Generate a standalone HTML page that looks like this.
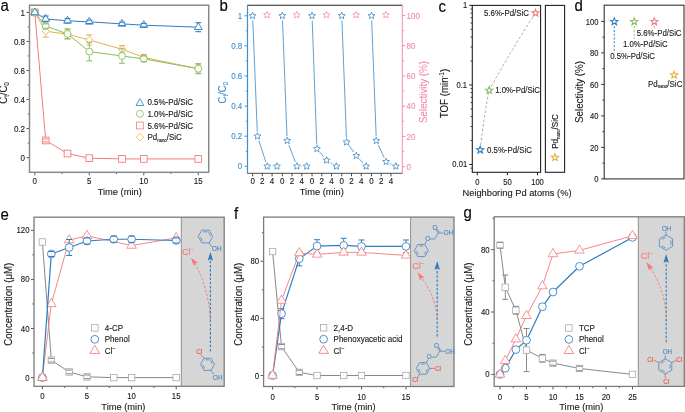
<!DOCTYPE html>
<html><head><meta charset="utf-8"><style>
html,body{margin:0;padding:0;background:#fff;}
svg{display:block;will-change:transform;}
text{font-family:"Liberation Sans", sans-serif;}
</style></head><body>
<svg width="685" height="412" viewBox="0 0 685 412">
<text transform="translate(0.5 11.38) scale(1 1.07)" font-size="15" fill="#000" stroke="#000" stroke-width="0.12" text-anchor="start" >a</text>
<line x1="26.5" y1="157.6" x2="29.5" y2="157.6" stroke="#555555" stroke-width="1" />
<text transform="translate(25 160.7) scale(1 1.07)" font-size="8" fill="#1a1a1a" stroke="#1a1a1a" stroke-width="0.12" text-anchor="end" >0</text>
<line x1="26.5" y1="128.56" x2="29.5" y2="128.56" stroke="#555555" stroke-width="1" />
<text transform="translate(25 131.66) scale(1 1.07)" font-size="8" fill="#1a1a1a" stroke="#1a1a1a" stroke-width="0.12" text-anchor="end" >0.2</text>
<line x1="26.5" y1="99.52" x2="29.5" y2="99.52" stroke="#555555" stroke-width="1" />
<text transform="translate(25 102.62) scale(1 1.07)" font-size="8" fill="#1a1a1a" stroke="#1a1a1a" stroke-width="0.12" text-anchor="end" >0.4</text>
<line x1="26.5" y1="70.48" x2="29.5" y2="70.48" stroke="#555555" stroke-width="1" />
<text transform="translate(25 73.58) scale(1 1.07)" font-size="8" fill="#1a1a1a" stroke="#1a1a1a" stroke-width="0.12" text-anchor="end" >0.6</text>
<line x1="26.5" y1="41.44" x2="29.5" y2="41.44" stroke="#555555" stroke-width="1" />
<text transform="translate(25 44.54) scale(1 1.07)" font-size="8" fill="#1a1a1a" stroke="#1a1a1a" stroke-width="0.12" text-anchor="end" >0.8</text>
<line x1="26.5" y1="12.4" x2="29.5" y2="12.4" stroke="#555555" stroke-width="1" />
<text transform="translate(25 15.5) scale(1 1.07)" font-size="8" fill="#1a1a1a" stroke="#1a1a1a" stroke-width="0.12" text-anchor="end" >1</text>
<line x1="27.8" y1="143.08" x2="29.5" y2="143.08" stroke="#555555" stroke-width="1" />
<line x1="27.8" y1="114.04" x2="29.5" y2="114.04" stroke="#555555" stroke-width="1" />
<line x1="27.8" y1="85" x2="29.5" y2="85" stroke="#555555" stroke-width="1" />
<line x1="27.8" y1="55.96" x2="29.5" y2="55.96" stroke="#555555" stroke-width="1" />
<line x1="27.8" y1="26.92" x2="29.5" y2="26.92" stroke="#555555" stroke-width="1" />
<line x1="34.8" y1="172.3" x2="34.8" y2="175.3" stroke="#555555" stroke-width="1" />
<text transform="translate(34.8 184) scale(1 1.07)" font-size="8" fill="#1a1a1a" stroke="#1a1a1a" stroke-width="0.12" text-anchor="middle" >0</text>
<line x1="89.3" y1="172.3" x2="89.3" y2="175.3" stroke="#555555" stroke-width="1" />
<text transform="translate(89.3 184) scale(1 1.07)" font-size="8" fill="#1a1a1a" stroke="#1a1a1a" stroke-width="0.12" text-anchor="middle" >5</text>
<line x1="143.8" y1="172.3" x2="143.8" y2="175.3" stroke="#555555" stroke-width="1" />
<text transform="translate(143.8 184) scale(1 1.07)" font-size="8" fill="#1a1a1a" stroke="#1a1a1a" stroke-width="0.12" text-anchor="middle" >10</text>
<line x1="198.3" y1="172.3" x2="198.3" y2="175.3" stroke="#555555" stroke-width="1" />
<text transform="translate(198.3 184) scale(1 1.07)" font-size="8" fill="#1a1a1a" stroke="#1a1a1a" stroke-width="0.12" text-anchor="middle" >15</text>
<line x1="62.05" y1="172.3" x2="62.05" y2="174" stroke="#555555" stroke-width="1" />
<line x1="116.55" y1="172.3" x2="116.55" y2="174" stroke="#555555" stroke-width="1" />
<line x1="171.05" y1="172.3" x2="171.05" y2="174" stroke="#555555" stroke-width="1" />
<text transform="translate(119.75 195.43) scale(1 1.07)" font-size="9.3" fill="#1a1a1a" stroke="#1a1a1a" stroke-width="0.12" text-anchor="middle" >Time (min)</text>
<text transform="translate(6.84 93) rotate(-90) scale(1 1.07)" font-size="9.6" fill="#1a1a1a" stroke="#1a1a1a" stroke-width="0.12" text-anchor="middle">C<tspan font-size="5.9" dy="2.0">t</tspan><tspan dy="-2.0">/C</tspan><tspan font-size="5.9" dy="2.0">0</tspan></text>
<polyline points="34.8,12.4 45.7,140.47 67.5,153.53 89.3,158.18 122,158.91 143.8,158.91 198.3,158.91" fill="none" stroke="#f57a7a" stroke-width="1.0" stroke-linejoin="round" />
<rect x="31.45" y="9.05" width="6.7" height="6.7" fill="white" stroke="#f57a7a" stroke-width="0.9"/>
<circle cx="34.8" cy="12.4" r="0.4" fill="#f57a7a" opacity="0.5"/>
<rect x="42.35" y="137.12" width="6.7" height="6.7" fill="white" stroke="#f57a7a" stroke-width="0.9"/>
<circle cx="45.7" cy="140.47" r="0.4" fill="#f57a7a" opacity="0.5"/>
<rect x="64.15" y="150.18" width="6.7" height="6.7" fill="white" stroke="#f57a7a" stroke-width="0.9"/>
<circle cx="67.5" cy="153.53" r="0.4" fill="#f57a7a" opacity="0.5"/>
<rect x="85.95" y="154.83" width="6.7" height="6.7" fill="white" stroke="#f57a7a" stroke-width="0.9"/>
<circle cx="89.3" cy="158.18" r="0.4" fill="#f57a7a" opacity="0.5"/>
<rect x="118.65" y="155.56" width="6.7" height="6.7" fill="white" stroke="#f57a7a" stroke-width="0.9"/>
<circle cx="122" cy="158.91" r="0.4" fill="#f57a7a" opacity="0.5"/>
<rect x="140.45" y="155.56" width="6.7" height="6.7" fill="white" stroke="#f57a7a" stroke-width="0.9"/>
<circle cx="143.8" cy="158.91" r="0.4" fill="#f57a7a" opacity="0.5"/>
<rect x="194.95" y="155.56" width="6.7" height="6.7" fill="white" stroke="#f57a7a" stroke-width="0.9"/>
<circle cx="198.3" cy="158.91" r="0.4" fill="#f57a7a" opacity="0.5"/>
<line x1="42.7" y1="139.01" x2="48.7" y2="139.01" stroke="#f57a7a" stroke-width="1.0" />
<line x1="42.7" y1="141.92" x2="48.7" y2="141.92" stroke="#f57a7a" stroke-width="1.0" />
<polyline points="34.8,12.4 45.7,31.28 67.5,34.18 89.3,39.99 122,49.28 143.8,57.41 198.3,68.74" fill="none" stroke="#eaae45" stroke-width="1.0" stroke-linejoin="round" />
<polygon points="34.8,8.75 38.45,12.4 34.8,16.05 31.15,12.4" fill="white" stroke="#eaae45" stroke-width="0.9"/>
<circle cx="34.8" cy="12.4" r="0.4" fill="#eaae45" opacity="0.5"/>
<polygon points="45.7,27.63 49.35,31.28 45.7,34.93 42.05,31.28" fill="white" stroke="#eaae45" stroke-width="0.9"/>
<circle cx="45.7" cy="31.28" r="0.4" fill="#eaae45" opacity="0.5"/>
<polygon points="67.5,30.53 71.15,34.18 67.5,37.83 63.85,34.18" fill="white" stroke="#eaae45" stroke-width="0.9"/>
<circle cx="67.5" cy="34.18" r="0.4" fill="#eaae45" opacity="0.5"/>
<polygon points="89.3,36.34 92.95,39.99 89.3,43.64 85.65,39.99" fill="white" stroke="#eaae45" stroke-width="0.9"/>
<circle cx="89.3" cy="39.99" r="0.4" fill="#eaae45" opacity="0.5"/>
<polygon points="122,45.63 125.65,49.28 122,52.93 118.35,49.28" fill="white" stroke="#eaae45" stroke-width="0.9"/>
<circle cx="122" cy="49.28" r="0.4" fill="#eaae45" opacity="0.5"/>
<polygon points="143.8,53.76 147.45,57.41 143.8,61.06 140.15,57.41" fill="white" stroke="#eaae45" stroke-width="0.9"/>
<circle cx="143.8" cy="57.41" r="0.4" fill="#eaae45" opacity="0.5"/>
<polygon points="198.3,65.09 201.95,68.74 198.3,72.39 194.65,68.74" fill="white" stroke="#eaae45" stroke-width="0.9"/>
<circle cx="198.3" cy="68.74" r="0.4" fill="#eaae45" opacity="0.5"/>
<line x1="45.7" y1="25.47" x2="45.7" y2="27.18" stroke="#eaae45" stroke-width="1.0" />
<line x1="45.7" y1="35.38" x2="45.7" y2="37.08" stroke="#eaae45" stroke-width="1.0" />
<line x1="42.7" y1="25.47" x2="48.7" y2="25.47" stroke="#eaae45" stroke-width="1.0" />
<line x1="42.7" y1="37.08" x2="48.7" y2="37.08" stroke="#eaae45" stroke-width="1.0" />
<line x1="67.5" y1="29.82" x2="67.5" y2="30.08" stroke="#eaae45" stroke-width="1.0" />
<line x1="67.5" y1="38.28" x2="67.5" y2="38.54" stroke="#eaae45" stroke-width="1.0" />
<line x1="64.5" y1="29.82" x2="70.5" y2="29.82" stroke="#eaae45" stroke-width="1.0" />
<line x1="64.5" y1="38.54" x2="70.5" y2="38.54" stroke="#eaae45" stroke-width="1.0" />
<line x1="89.3" y1="34.91" x2="89.3" y2="35.89" stroke="#eaae45" stroke-width="1.0" />
<line x1="89.3" y1="44.09" x2="89.3" y2="45.07" stroke="#eaae45" stroke-width="1.0" />
<line x1="86.3" y1="34.91" x2="92.3" y2="34.91" stroke="#eaae45" stroke-width="1.0" />
<line x1="86.3" y1="45.07" x2="92.3" y2="45.07" stroke="#eaae45" stroke-width="1.0" />
<line x1="119" y1="45.65" x2="125" y2="45.65" stroke="#eaae45" stroke-width="1.0" />
<line x1="119" y1="52.91" x2="125" y2="52.91" stroke="#eaae45" stroke-width="1.0" />
<line x1="140.8" y1="54.51" x2="146.8" y2="54.51" stroke="#eaae45" stroke-width="1.0" />
<line x1="140.8" y1="60.32" x2="146.8" y2="60.32" stroke="#eaae45" stroke-width="1.0" />
<line x1="198.3" y1="64.38" x2="198.3" y2="64.64" stroke="#eaae45" stroke-width="1.0" />
<line x1="198.3" y1="72.84" x2="198.3" y2="73.09" stroke="#eaae45" stroke-width="1.0" />
<line x1="195.3" y1="64.38" x2="201.3" y2="64.38" stroke="#eaae45" stroke-width="1.0" />
<line x1="195.3" y1="73.09" x2="201.3" y2="73.09" stroke="#eaae45" stroke-width="1.0" />
<polyline points="34.8,12.4 45.7,26.05 67.5,33.89 89.3,51.6 122,55.96 143.8,58.86 198.3,68.74" fill="none" stroke="#86bd5e" stroke-width="1.0" stroke-linejoin="round" />
<circle cx="34.8" cy="12.4" r="3.45" fill="white" stroke="#86bd5e" stroke-width="0.9"/>
<circle cx="34.8" cy="12.4" r="0.4" fill="#86bd5e" opacity="0.5"/>
<circle cx="45.7" cy="26.05" r="3.45" fill="white" stroke="#86bd5e" stroke-width="0.9"/>
<circle cx="45.7" cy="26.05" r="0.4" fill="#86bd5e" opacity="0.5"/>
<circle cx="67.5" cy="33.89" r="3.45" fill="white" stroke="#86bd5e" stroke-width="0.9"/>
<circle cx="67.5" cy="33.89" r="0.4" fill="#86bd5e" opacity="0.5"/>
<circle cx="89.3" cy="51.6" r="3.45" fill="white" stroke="#86bd5e" stroke-width="0.9"/>
<circle cx="89.3" cy="51.6" r="0.4" fill="#86bd5e" opacity="0.5"/>
<circle cx="122" cy="55.96" r="3.45" fill="white" stroke="#86bd5e" stroke-width="0.9"/>
<circle cx="122" cy="55.96" r="0.4" fill="#86bd5e" opacity="0.5"/>
<circle cx="143.8" cy="58.86" r="3.45" fill="white" stroke="#86bd5e" stroke-width="0.9"/>
<circle cx="143.8" cy="58.86" r="0.4" fill="#86bd5e" opacity="0.5"/>
<circle cx="198.3" cy="68.74" r="3.45" fill="white" stroke="#86bd5e" stroke-width="0.9"/>
<circle cx="198.3" cy="68.74" r="0.4" fill="#86bd5e" opacity="0.5"/>
<line x1="42.7" y1="23.87" x2="48.7" y2="23.87" stroke="#86bd5e" stroke-width="1.0" />
<line x1="42.7" y1="28.23" x2="48.7" y2="28.23" stroke="#86bd5e" stroke-width="1.0" />
<line x1="67.5" y1="28.81" x2="67.5" y2="29.99" stroke="#86bd5e" stroke-width="1.0" />
<line x1="67.5" y1="37.79" x2="67.5" y2="38.97" stroke="#86bd5e" stroke-width="1.0" />
<line x1="64.5" y1="28.81" x2="70.5" y2="28.81" stroke="#86bd5e" stroke-width="1.0" />
<line x1="64.5" y1="38.97" x2="70.5" y2="38.97" stroke="#86bd5e" stroke-width="1.0" />
<line x1="89.3" y1="42.31" x2="89.3" y2="47.7" stroke="#86bd5e" stroke-width="1.0" />
<line x1="89.3" y1="55.5" x2="89.3" y2="60.9" stroke="#86bd5e" stroke-width="1.0" />
<line x1="86.3" y1="42.31" x2="92.3" y2="42.31" stroke="#86bd5e" stroke-width="1.0" />
<line x1="86.3" y1="60.9" x2="92.3" y2="60.9" stroke="#86bd5e" stroke-width="1.0" />
<line x1="122" y1="48.7" x2="122" y2="52.06" stroke="#86bd5e" stroke-width="1.0" />
<line x1="122" y1="59.86" x2="122" y2="63.22" stroke="#86bd5e" stroke-width="1.0" />
<line x1="119" y1="48.7" x2="125" y2="48.7" stroke="#86bd5e" stroke-width="1.0" />
<line x1="119" y1="63.22" x2="125" y2="63.22" stroke="#86bd5e" stroke-width="1.0" />
<line x1="140.8" y1="55.96" x2="146.8" y2="55.96" stroke="#86bd5e" stroke-width="1.0" />
<line x1="140.8" y1="61.77" x2="146.8" y2="61.77" stroke="#86bd5e" stroke-width="1.0" />
<line x1="198.3" y1="63.66" x2="198.3" y2="64.84" stroke="#86bd5e" stroke-width="1.0" />
<line x1="198.3" y1="72.64" x2="198.3" y2="73.82" stroke="#86bd5e" stroke-width="1.0" />
<line x1="195.3" y1="63.66" x2="201.3" y2="63.66" stroke="#86bd5e" stroke-width="1.0" />
<line x1="195.3" y1="73.82" x2="201.3" y2="73.82" stroke="#86bd5e" stroke-width="1.0" />
<polyline points="34.8,12.4 45.7,18.93 67.5,20.82 89.3,21.84 122,23.87 143.8,25.18 198.3,27.21" fill="none" stroke="#2f7dc0" stroke-width="1.0" stroke-linejoin="round" />
<polygon points="34.8,7.87 38.7,14.67 30.9,14.67" fill="white" stroke="#2f7dc0" stroke-width="0.9"/>
<circle cx="34.8" cy="12.4" r="0.4" fill="#2f7dc0" opacity="0.5"/>
<polygon points="45.7,14.4 49.6,21.2 41.8,21.2" fill="white" stroke="#2f7dc0" stroke-width="0.9"/>
<circle cx="45.7" cy="18.93" r="0.4" fill="#2f7dc0" opacity="0.5"/>
<polygon points="67.5,16.29 71.4,23.09 63.6,23.09" fill="white" stroke="#2f7dc0" stroke-width="0.9"/>
<circle cx="67.5" cy="20.82" r="0.4" fill="#2f7dc0" opacity="0.5"/>
<polygon points="89.3,17.3 93.2,24.1 85.4,24.1" fill="white" stroke="#2f7dc0" stroke-width="0.9"/>
<circle cx="89.3" cy="21.84" r="0.4" fill="#2f7dc0" opacity="0.5"/>
<polygon points="122,19.34 125.9,26.14 118.1,26.14" fill="white" stroke="#2f7dc0" stroke-width="0.9"/>
<circle cx="122" cy="23.87" r="0.4" fill="#2f7dc0" opacity="0.5"/>
<polygon points="143.8,20.64 147.7,27.44 139.9,27.44" fill="white" stroke="#2f7dc0" stroke-width="0.9"/>
<circle cx="143.8" cy="25.18" r="0.4" fill="#2f7dc0" opacity="0.5"/>
<polygon points="198.3,22.68 202.2,29.48 194.4,29.48" fill="white" stroke="#2f7dc0" stroke-width="0.9"/>
<circle cx="198.3" cy="27.21" r="0.4" fill="#2f7dc0" opacity="0.5"/>
<line x1="42.7" y1="16.03" x2="48.7" y2="16.03" stroke="#2f7dc0" stroke-width="1.0" />
<line x1="42.7" y1="21.84" x2="48.7" y2="21.84" stroke="#2f7dc0" stroke-width="1.0" />
<line x1="64.5" y1="18.64" x2="70.5" y2="18.64" stroke="#2f7dc0" stroke-width="1.0" />
<line x1="64.5" y1="23" x2="70.5" y2="23" stroke="#2f7dc0" stroke-width="1.0" />
<line x1="86.3" y1="20.1" x2="92.3" y2="20.1" stroke="#2f7dc0" stroke-width="1.0" />
<line x1="86.3" y1="23.58" x2="92.3" y2="23.58" stroke="#2f7dc0" stroke-width="1.0" />
<line x1="119" y1="22.13" x2="125" y2="22.13" stroke="#2f7dc0" stroke-width="1.0" />
<line x1="119" y1="25.61" x2="125" y2="25.61" stroke="#2f7dc0" stroke-width="1.0" />
<line x1="140.8" y1="23.44" x2="146.8" y2="23.44" stroke="#2f7dc0" stroke-width="1.0" />
<line x1="140.8" y1="26.92" x2="146.8" y2="26.92" stroke="#2f7dc0" stroke-width="1.0" />
<line x1="198.3" y1="22.71" x2="198.3" y2="23.81" stroke="#2f7dc0" stroke-width="1.0" />
<line x1="198.3" y1="30.61" x2="198.3" y2="31.71" stroke="#2f7dc0" stroke-width="1.0" />
<line x1="195.3" y1="22.71" x2="201.3" y2="22.71" stroke="#2f7dc0" stroke-width="1.0" />
<line x1="195.3" y1="31.71" x2="201.3" y2="31.71" stroke="#2f7dc0" stroke-width="1.0" />
<rect x="29.5" y="5.2" width="179.2" height="167.1" fill="none" stroke="#878787" stroke-width="1.45"/>
<polygon points="139.9,98.67 143.8,105.47 136,105.47" fill="white" stroke="#2f7dc0" stroke-width="0.8"/>
<circle cx="139.9" cy="103.2" r="0.4" fill="#2f7dc0" opacity="0.5"/>
<text transform="translate(147.4 105.2) scale(1 1.07)" font-size="8.0" fill="#1a1a1a" stroke="#1a1a1a" stroke-width="0.12" text-anchor="start" >0.5%-Pd/SiC</text>
<circle cx="139.9" cy="113.85" r="3.5" fill="white" stroke="#86bd5e" stroke-width="0.8"/>
<circle cx="139.9" cy="113.85" r="0.4" fill="#86bd5e" opacity="0.5"/>
<text transform="translate(147.4 116.85) scale(1 1.07)" font-size="8.0" fill="#1a1a1a" stroke="#1a1a1a" stroke-width="0.12" text-anchor="start" >1.0%-Pd/SiC</text>
<rect x="136.5" y="122.1" width="6.8" height="6.8" fill="white" stroke="#f57a7a" stroke-width="0.8"/>
<circle cx="139.9" cy="125.5" r="0.4" fill="#f57a7a" opacity="0.5"/>
<text transform="translate(147.4 128.5) scale(1 1.07)" font-size="8.0" fill="#1a1a1a" stroke="#1a1a1a" stroke-width="0.12" text-anchor="start" >5.6%-Pd/SiC</text>
<polygon points="139.9,133.45 143.6,137.15 139.9,140.85 136.2,137.15" fill="white" stroke="#eaae45" stroke-width="0.8"/>
<circle cx="139.9" cy="137.15" r="0.4" fill="#eaae45" opacity="0.5"/>
<text transform="translate(147.4 140.15) scale(1 1.07)" font-size="8.0" fill="#1a1a1a" stroke="#1a1a1a" stroke-width="0.12" text-anchor="start" >Pd<tspan font-size="4.3" dy="1.4">nano</tspan><tspan dy="-1.4">/SiC</tspan></text>
<text transform="translate(219.5 11.38) scale(1 1.07)" font-size="15" fill="#000" stroke="#000" stroke-width="0.12" text-anchor="start" >b</text>
<line x1="247.5" y1="5.3" x2="402.3" y2="5.3" stroke="#222" stroke-width="1.1" />
<line x1="247.5" y1="173.3" x2="402.3" y2="173.3" stroke="#707070" stroke-width="1.3" />
<line x1="247.5" y1="4.8" x2="247.5" y2="173.8" stroke="#3f8fcf" stroke-width="1.2" />
<line x1="402.3" y1="4.8" x2="402.3" y2="173.8" stroke="#f08cae" stroke-width="1.0" />
<line x1="244.5" y1="166.3" x2="247.5" y2="166.3" stroke="#3f8fcf" stroke-width="1" />
<text transform="translate(242.3 169.4) scale(1 1.07)" font-size="8" fill="#3f8fcf" stroke="#3f8fcf" stroke-width="0.12" text-anchor="end" >0</text>
<line x1="244.5" y1="136.2" x2="247.5" y2="136.2" stroke="#3f8fcf" stroke-width="1" />
<text transform="translate(242.3 139.3) scale(1 1.07)" font-size="8" fill="#3f8fcf" stroke="#3f8fcf" stroke-width="0.12" text-anchor="end" >0.2</text>
<line x1="244.5" y1="106.1" x2="247.5" y2="106.1" stroke="#3f8fcf" stroke-width="1" />
<text transform="translate(242.3 109.2) scale(1 1.07)" font-size="8" fill="#3f8fcf" stroke="#3f8fcf" stroke-width="0.12" text-anchor="end" >0.4</text>
<line x1="244.5" y1="76" x2="247.5" y2="76" stroke="#3f8fcf" stroke-width="1" />
<text transform="translate(242.3 79.1) scale(1 1.07)" font-size="8" fill="#3f8fcf" stroke="#3f8fcf" stroke-width="0.12" text-anchor="end" >0.6</text>
<line x1="244.5" y1="45.9" x2="247.5" y2="45.9" stroke="#3f8fcf" stroke-width="1" />
<text transform="translate(242.3 49) scale(1 1.07)" font-size="8" fill="#3f8fcf" stroke="#3f8fcf" stroke-width="0.12" text-anchor="end" >0.8</text>
<line x1="244.5" y1="15.8" x2="247.5" y2="15.8" stroke="#3f8fcf" stroke-width="1" />
<text transform="translate(242.3 18.9) scale(1 1.07)" font-size="8" fill="#3f8fcf" stroke="#3f8fcf" stroke-width="0.12" text-anchor="end" >1</text>
<line x1="245.8" y1="151.25" x2="247.5" y2="151.25" stroke="#3f8fcf" stroke-width="1" />
<line x1="245.8" y1="121.15" x2="247.5" y2="121.15" stroke="#3f8fcf" stroke-width="1" />
<line x1="245.8" y1="91.05" x2="247.5" y2="91.05" stroke="#3f8fcf" stroke-width="1" />
<line x1="245.8" y1="60.95" x2="247.5" y2="60.95" stroke="#3f8fcf" stroke-width="1" />
<line x1="245.8" y1="30.85" x2="247.5" y2="30.85" stroke="#3f8fcf" stroke-width="1" />
<line x1="402.3" y1="166.7" x2="405.3" y2="166.7" stroke="#f08cae" stroke-width="1" />
<text transform="translate(406.5 169.8) scale(1 1.07)" font-size="8" fill="#f08cae" stroke="#f08cae" stroke-width="0.12" text-anchor="start" >0</text>
<line x1="402.3" y1="136.44" x2="405.3" y2="136.44" stroke="#f08cae" stroke-width="1" />
<text transform="translate(406.5 139.54) scale(1 1.07)" font-size="8" fill="#f08cae" stroke="#f08cae" stroke-width="0.12" text-anchor="start" >20</text>
<line x1="402.3" y1="106.18" x2="405.3" y2="106.18" stroke="#f08cae" stroke-width="1" />
<text transform="translate(406.5 109.28) scale(1 1.07)" font-size="8" fill="#f08cae" stroke="#f08cae" stroke-width="0.12" text-anchor="start" >40</text>
<line x1="402.3" y1="75.92" x2="405.3" y2="75.92" stroke="#f08cae" stroke-width="1" />
<text transform="translate(406.5 79.02) scale(1 1.07)" font-size="8" fill="#f08cae" stroke="#f08cae" stroke-width="0.12" text-anchor="start" >60</text>
<line x1="402.3" y1="45.66" x2="405.3" y2="45.66" stroke="#f08cae" stroke-width="1" />
<text transform="translate(406.5 48.76) scale(1 1.07)" font-size="8" fill="#f08cae" stroke="#f08cae" stroke-width="0.12" text-anchor="start" >80</text>
<line x1="402.3" y1="15.4" x2="405.3" y2="15.4" stroke="#f08cae" stroke-width="1" />
<text transform="translate(406.5 18.5) scale(1 1.07)" font-size="8" fill="#f08cae" stroke="#f08cae" stroke-width="0.12" text-anchor="start" >100</text>
<line x1="402.3" y1="151.57" x2="404" y2="151.57" stroke="#f08cae" stroke-width="1" />
<line x1="402.3" y1="121.31" x2="404" y2="121.31" stroke="#f08cae" stroke-width="1" />
<line x1="402.3" y1="91.05" x2="404" y2="91.05" stroke="#f08cae" stroke-width="1" />
<line x1="402.3" y1="60.79" x2="404" y2="60.79" stroke="#f08cae" stroke-width="1" />
<line x1="402.3" y1="30.53" x2="404" y2="30.53" stroke="#f08cae" stroke-width="1" />
<line x1="252.6" y1="173.3" x2="252.6" y2="176.3" stroke="#444" stroke-width="1" />
<text transform="translate(252.6 184.4) scale(1 1.07)" font-size="8" fill="#1a1a1a" stroke="#1a1a1a" stroke-width="0.12" text-anchor="middle" >0</text>
<line x1="262.34" y1="173.3" x2="262.34" y2="176.3" stroke="#444" stroke-width="1" />
<text transform="translate(262.34 184.4) scale(1 1.07)" font-size="8" fill="#1a1a1a" stroke="#1a1a1a" stroke-width="0.12" text-anchor="middle" >2</text>
<line x1="272.08" y1="173.3" x2="272.08" y2="176.3" stroke="#444" stroke-width="1" />
<text transform="translate(272.08 184.4) scale(1 1.07)" font-size="8" fill="#1a1a1a" stroke="#1a1a1a" stroke-width="0.12" text-anchor="middle" >4</text>
<line x1="282.32" y1="173.3" x2="282.32" y2="176.3" stroke="#444" stroke-width="1" />
<text transform="translate(282.32 184.4) scale(1 1.07)" font-size="8" fill="#1a1a1a" stroke="#1a1a1a" stroke-width="0.12" text-anchor="middle" >0</text>
<line x1="292.06" y1="173.3" x2="292.06" y2="176.3" stroke="#444" stroke-width="1" />
<text transform="translate(292.06 184.4) scale(1 1.07)" font-size="8" fill="#1a1a1a" stroke="#1a1a1a" stroke-width="0.12" text-anchor="middle" >2</text>
<line x1="301.8" y1="173.3" x2="301.8" y2="176.3" stroke="#444" stroke-width="1" />
<text transform="translate(301.8 184.4) scale(1 1.07)" font-size="8" fill="#1a1a1a" stroke="#1a1a1a" stroke-width="0.12" text-anchor="middle" >4</text>
<line x1="312.04" y1="173.3" x2="312.04" y2="176.3" stroke="#444" stroke-width="1" />
<text transform="translate(312.04 184.4) scale(1 1.07)" font-size="8" fill="#1a1a1a" stroke="#1a1a1a" stroke-width="0.12" text-anchor="middle" >0</text>
<line x1="321.78" y1="173.3" x2="321.78" y2="176.3" stroke="#444" stroke-width="1" />
<text transform="translate(321.78 184.4) scale(1 1.07)" font-size="8" fill="#1a1a1a" stroke="#1a1a1a" stroke-width="0.12" text-anchor="middle" >2</text>
<line x1="331.52" y1="173.3" x2="331.52" y2="176.3" stroke="#444" stroke-width="1" />
<text transform="translate(331.52 184.4) scale(1 1.07)" font-size="8" fill="#1a1a1a" stroke="#1a1a1a" stroke-width="0.12" text-anchor="middle" >4</text>
<line x1="341.76" y1="173.3" x2="341.76" y2="176.3" stroke="#444" stroke-width="1" />
<text transform="translate(341.76 184.4) scale(1 1.07)" font-size="8" fill="#1a1a1a" stroke="#1a1a1a" stroke-width="0.12" text-anchor="middle" >0</text>
<line x1="351.5" y1="173.3" x2="351.5" y2="176.3" stroke="#444" stroke-width="1" />
<text transform="translate(351.5 184.4) scale(1 1.07)" font-size="8" fill="#1a1a1a" stroke="#1a1a1a" stroke-width="0.12" text-anchor="middle" >2</text>
<line x1="361.24" y1="173.3" x2="361.24" y2="176.3" stroke="#444" stroke-width="1" />
<text transform="translate(361.24 184.4) scale(1 1.07)" font-size="8" fill="#1a1a1a" stroke="#1a1a1a" stroke-width="0.12" text-anchor="middle" >4</text>
<line x1="371.48" y1="173.3" x2="371.48" y2="176.3" stroke="#444" stroke-width="1" />
<text transform="translate(371.48 184.4) scale(1 1.07)" font-size="8" fill="#1a1a1a" stroke="#1a1a1a" stroke-width="0.12" text-anchor="middle" >0</text>
<line x1="381.22" y1="173.3" x2="381.22" y2="176.3" stroke="#444" stroke-width="1" />
<text transform="translate(381.22 184.4) scale(1 1.07)" font-size="8" fill="#1a1a1a" stroke="#1a1a1a" stroke-width="0.12" text-anchor="middle" >2</text>
<line x1="390.96" y1="173.3" x2="390.96" y2="176.3" stroke="#444" stroke-width="1" />
<text transform="translate(390.96 184.4) scale(1 1.07)" font-size="8" fill="#1a1a1a" stroke="#1a1a1a" stroke-width="0.12" text-anchor="middle" >4</text>
<text transform="translate(321.8 195.23) scale(1 1.07)" font-size="9.3" fill="#1a1a1a" stroke="#1a1a1a" stroke-width="0.12" text-anchor="middle" >Time (min)</text>
<text transform="translate(226.14 92.8) rotate(-90) scale(1 1.07)" font-size="9.6" fill="#3f8fcf" stroke="#3f8fcf" stroke-width="0.12" text-anchor="middle">C<tspan font-size="5.9" dy="2.0">t</tspan><tspan dy="-2.0">/C</tspan><tspan font-size="5.9" dy="2.0">0</tspan></text>
<text transform="translate(427.45 92) rotate(-90) scale(1 1.07)" font-size="9.8" fill="#f08cae" stroke="#f08cae" stroke-width="0.12" text-anchor="middle">Selectivity (%)</text>
<line x1="252.79" y1="20.4" x2="257.28" y2="131.6" stroke="#3a88c5" stroke-width="0.8" />
<line x1="258.89" y1="140.58" x2="265.79" y2="161.92" stroke="#3a88c5" stroke-width="0.8" />
<line x1="271.81" y1="166.3" x2="272.35" y2="166.3" stroke="#3a88c5" stroke-width="0.8" />
<polygon points="252.6,12.2 253.55,14.49 256.02,14.69 254.14,16.3 254.72,18.71 252.6,17.42 250.48,18.71 251.06,16.3 249.18,14.69 251.65,14.49" fill="white" stroke="#3a88c5" stroke-width="0.8" stroke-linejoin="miter"/>
<polygon points="257.47,132.6 258.42,134.89 260.89,135.09 259.01,136.7 259.59,139.11 257.47,137.82 255.35,139.11 255.93,136.7 254.05,135.09 256.52,134.89" fill="white" stroke="#3a88c5" stroke-width="0.8" stroke-linejoin="miter"/>
<polygon points="267.21,162.7 268.16,164.99 270.63,165.19 268.75,166.8 269.33,169.21 267.21,167.92 265.09,169.21 265.67,166.8 263.79,165.19 266.26,164.99" fill="white" stroke="#3a88c5" stroke-width="0.8" stroke-linejoin="miter"/>
<polygon points="276.95,162.7 277.9,164.99 280.37,165.19 278.49,166.8 279.07,169.21 276.95,167.92 274.83,169.21 275.41,166.8 273.53,165.19 276,164.99" fill="white" stroke="#3a88c5" stroke-width="0.8" stroke-linejoin="miter"/>
<polygon points="267.01,11.4 267.96,13.69 270.43,13.89 268.55,15.5 269.13,17.91 267.01,16.62 264.89,17.91 265.47,15.5 263.59,13.89 266.06,13.69" fill="white" stroke="#f28aa5" stroke-width="0.8" stroke-linejoin="miter"/>
<line x1="282.5" y1="20.4" x2="287.01" y2="136.12" stroke="#3a88c5" stroke-width="0.8" />
<line x1="288.83" y1="145.01" x2="295.29" y2="162" stroke="#3a88c5" stroke-width="0.8" />
<line x1="301.53" y1="166.3" x2="302.07" y2="166.3" stroke="#3a88c5" stroke-width="0.8" />
<polygon points="282.32,12.2 283.27,14.49 285.74,14.69 283.86,16.3 284.44,18.71 282.32,17.42 280.2,18.71 280.78,16.3 278.9,14.69 281.37,14.49" fill="white" stroke="#3a88c5" stroke-width="0.8" stroke-linejoin="miter"/>
<polygon points="287.19,137.12 288.14,139.4 290.61,139.6 288.73,141.22 289.31,143.63 287.19,142.34 285.07,143.63 285.65,141.22 283.77,139.6 286.24,139.4" fill="white" stroke="#3a88c5" stroke-width="0.8" stroke-linejoin="miter"/>
<polygon points="296.93,162.7 297.88,164.99 300.35,165.19 298.47,166.8 299.05,169.21 296.93,167.92 294.81,169.21 295.39,166.8 293.51,165.19 295.98,164.99" fill="white" stroke="#3a88c5" stroke-width="0.8" stroke-linejoin="miter"/>
<polygon points="306.67,162.7 307.62,164.99 310.09,165.19 308.21,166.8 308.79,169.21 306.67,167.92 304.55,169.21 305.13,166.8 303.25,165.19 305.72,164.99" fill="white" stroke="#3a88c5" stroke-width="0.8" stroke-linejoin="miter"/>
<polygon points="296.73,11.4 297.68,13.69 300.15,13.89 298.27,15.5 298.85,17.91 296.73,16.62 294.61,17.91 295.19,15.5 293.31,13.89 295.78,13.69" fill="white" stroke="#f28aa5" stroke-width="0.8" stroke-linejoin="miter"/>
<line x1="312.21" y1="20.4" x2="316.74" y2="144.25" stroke="#3a88c5" stroke-width="0.8" />
<line x1="319.89" y1="152.34" x2="323.67" y2="156.78" stroke="#3a88c5" stroke-width="0.8" />
<line x1="330.56" y1="162.7" x2="332.48" y2="163.88" stroke="#3a88c5" stroke-width="0.8" />
<polygon points="312.04,12.2 312.99,14.49 315.46,14.69 313.58,16.3 314.16,18.71 312.04,17.42 309.92,18.71 310.5,16.3 308.62,14.69 311.09,14.49" fill="white" stroke="#3a88c5" stroke-width="0.8" stroke-linejoin="miter"/>
<polygon points="316.91,145.24 317.86,147.53 320.33,147.73 318.45,149.34 319.03,151.75 316.91,150.46 314.79,151.75 315.37,149.34 313.49,147.73 315.96,147.53" fill="white" stroke="#3a88c5" stroke-width="0.8" stroke-linejoin="miter"/>
<polygon points="326.65,156.68 327.6,158.97 330.07,159.17 328.19,160.78 328.77,163.19 326.65,161.9 324.53,163.19 325.11,160.78 323.23,159.17 325.7,158.97" fill="white" stroke="#3a88c5" stroke-width="0.8" stroke-linejoin="miter"/>
<polygon points="336.39,162.7 337.34,164.99 339.81,165.19 337.93,166.8 338.51,169.21 336.39,167.92 334.27,169.21 334.85,166.8 332.97,165.19 335.44,164.99" fill="white" stroke="#3a88c5" stroke-width="0.8" stroke-linejoin="miter"/>
<polygon points="326.45,11.4 327.4,13.69 329.87,13.89 327.99,15.5 328.57,17.91 326.45,16.62 324.33,17.91 324.91,15.5 323.03,13.89 325.5,13.69" fill="white" stroke="#f28aa5" stroke-width="0.8" stroke-linejoin="miter"/>
<line x1="341.94" y1="20.4" x2="346.45" y2="137.62" stroke="#3a88c5" stroke-width="0.8" />
<line x1="349.32" y1="145.95" x2="353.68" y2="152.03" stroke="#3a88c5" stroke-width="0.8" />
<line x1="359.49" y1="159.14" x2="362.99" y2="162.92" stroke="#3a88c5" stroke-width="0.8" />
<polygon points="341.76,12.2 342.71,14.49 345.18,14.69 343.3,16.3 343.88,18.71 341.76,17.42 339.64,18.71 340.22,16.3 338.34,14.69 340.81,14.49" fill="white" stroke="#3a88c5" stroke-width="0.8" stroke-linejoin="miter"/>
<polygon points="346.63,138.62 347.58,140.91 350.05,141.11 348.17,142.72 348.75,145.13 346.63,143.84 344.51,145.13 345.09,142.72 343.21,141.11 345.68,140.91" fill="white" stroke="#3a88c5" stroke-width="0.8" stroke-linejoin="miter"/>
<polygon points="356.37,152.17 357.32,154.45 359.79,154.65 357.91,156.27 358.49,158.68 356.37,157.39 354.25,158.68 354.83,156.27 352.95,154.65 355.42,154.45" fill="white" stroke="#3a88c5" stroke-width="0.8" stroke-linejoin="miter"/>
<polygon points="366.11,162.7 367.06,164.99 369.53,165.19 367.65,166.8 368.23,169.21 366.11,167.92 363.99,169.21 364.57,166.8 362.69,165.19 365.16,164.99" fill="white" stroke="#3a88c5" stroke-width="0.8" stroke-linejoin="miter"/>
<polygon points="356.17,11.4 357.12,13.69 359.59,13.89 357.71,15.5 358.29,17.91 356.17,16.62 354.05,17.91 354.63,15.5 352.75,13.89 355.22,13.69" fill="white" stroke="#f28aa5" stroke-width="0.8" stroke-linejoin="miter"/>
<line x1="371.66" y1="20.4" x2="376.17" y2="136.12" stroke="#3a88c5" stroke-width="0.8" />
<line x1="378.28" y1="144.89" x2="384.16" y2="157.61" stroke="#3a88c5" stroke-width="0.8" />
<line x1="390.26" y1="163.72" x2="391.66" y2="164.37" stroke="#3a88c5" stroke-width="0.8" />
<polygon points="371.48,12.2 372.43,14.49 374.9,14.69 373.02,16.3 373.6,18.71 371.48,17.42 369.36,18.71 369.94,16.3 368.06,14.69 370.53,14.49" fill="white" stroke="#3a88c5" stroke-width="0.8" stroke-linejoin="miter"/>
<polygon points="376.35,137.12 377.3,139.4 379.77,139.6 377.89,141.22 378.47,143.63 376.35,142.34 374.23,143.63 374.81,141.22 372.93,139.6 375.4,139.4" fill="white" stroke="#3a88c5" stroke-width="0.8" stroke-linejoin="miter"/>
<polygon points="386.09,158.19 387.04,160.47 389.51,160.67 387.63,162.29 388.21,164.7 386.09,163.41 383.97,164.7 384.55,162.29 382.67,160.67 385.14,160.47" fill="white" stroke="#3a88c5" stroke-width="0.8" stroke-linejoin="miter"/>
<polygon points="395.83,162.7 396.78,164.99 399.25,165.19 397.37,166.8 397.95,169.21 395.83,167.92 393.71,169.21 394.29,166.8 392.41,165.19 394.88,164.99" fill="white" stroke="#3a88c5" stroke-width="0.8" stroke-linejoin="miter"/>
<polygon points="385.89,11.4 386.84,13.69 389.31,13.89 387.43,15.5 388.01,17.91 385.89,16.62 383.77,17.91 384.35,15.5 382.47,13.89 384.94,13.69" fill="white" stroke="#f28aa5" stroke-width="0.8" stroke-linejoin="miter"/>
<text transform="translate(438.5 11.78) scale(1 1.07)" font-size="15" fill="#000" stroke="#000" stroke-width="0.12" text-anchor="start" >c</text>
<rect x="472.3" y="5.4" width="68.3" height="166.9" fill="none" stroke="#222" stroke-width="1.1"/>
<rect x="545.4" y="5.4" width="19.2" height="166.9" fill="none" stroke="#222" stroke-width="1.1"/>
<line x1="469.3" y1="5.4" x2="472.3" y2="5.4" stroke="#222" stroke-width="1" />
<text transform="translate(467.1 8.29) scale(1 1.07)" font-size="7.6" fill="#1a1a1a" stroke="#1a1a1a" stroke-width="0.12" text-anchor="end" >1</text>
<line x1="469.3" y1="84.95" x2="472.3" y2="84.95" stroke="#222" stroke-width="1" />
<text transform="translate(467.1 87.84) scale(1 1.07)" font-size="7.6" fill="#1a1a1a" stroke="#1a1a1a" stroke-width="0.12" text-anchor="end" >0.1</text>
<line x1="469.3" y1="164.5" x2="472.3" y2="164.5" stroke="#222" stroke-width="1" />
<text transform="translate(467.1 167.39) scale(1 1.07)" font-size="7.6" fill="#1a1a1a" stroke="#1a1a1a" stroke-width="0.12" text-anchor="end" >0.01</text>
<line x1="470.6" y1="61" x2="472.3" y2="61" stroke="#222" stroke-width="0.9" />
<line x1="470.6" y1="47" x2="472.3" y2="47" stroke="#222" stroke-width="0.9" />
<line x1="470.6" y1="37.06" x2="472.3" y2="37.06" stroke="#222" stroke-width="0.9" />
<line x1="470.6" y1="29.35" x2="472.3" y2="29.35" stroke="#222" stroke-width="0.9" />
<line x1="470.6" y1="23.05" x2="472.3" y2="23.05" stroke="#222" stroke-width="0.9" />
<line x1="470.6" y1="17.72" x2="472.3" y2="17.72" stroke="#222" stroke-width="0.9" />
<line x1="470.6" y1="13.11" x2="472.3" y2="13.11" stroke="#222" stroke-width="0.9" />
<line x1="470.6" y1="9.04" x2="472.3" y2="9.04" stroke="#222" stroke-width="0.9" />
<line x1="470.6" y1="140.55" x2="472.3" y2="140.55" stroke="#222" stroke-width="0.9" />
<line x1="470.6" y1="126.55" x2="472.3" y2="126.55" stroke="#222" stroke-width="0.9" />
<line x1="470.6" y1="116.61" x2="472.3" y2="116.61" stroke="#222" stroke-width="0.9" />
<line x1="470.6" y1="108.9" x2="472.3" y2="108.9" stroke="#222" stroke-width="0.9" />
<line x1="470.6" y1="102.6" x2="472.3" y2="102.6" stroke="#222" stroke-width="0.9" />
<line x1="470.6" y1="97.27" x2="472.3" y2="97.27" stroke="#222" stroke-width="0.9" />
<line x1="470.6" y1="92.66" x2="472.3" y2="92.66" stroke="#222" stroke-width="0.9" />
<line x1="470.6" y1="88.59" x2="472.3" y2="88.59" stroke="#222" stroke-width="0.9" />
<line x1="470.6" y1="168.14" x2="472.3" y2="168.14" stroke="#222" stroke-width="0.9" />
<line x1="477.3" y1="172.3" x2="477.3" y2="175.3" stroke="#222" stroke-width="1" />
<text transform="translate(477.3 184.69) scale(1 1.07)" font-size="7.6" fill="#1a1a1a" stroke="#1a1a1a" stroke-width="0.12" text-anchor="middle" >0</text>
<line x1="507.4" y1="172.3" x2="507.4" y2="175.3" stroke="#222" stroke-width="1" />
<text transform="translate(507.4 184.69) scale(1 1.07)" font-size="7.6" fill="#1a1a1a" stroke="#1a1a1a" stroke-width="0.12" text-anchor="middle" >50</text>
<line x1="537.5" y1="172.3" x2="537.5" y2="175.3" stroke="#222" stroke-width="1" />
<text transform="translate(537.5 184.69) scale(1 1.07)" font-size="7.6" fill="#1a1a1a" stroke="#1a1a1a" stroke-width="0.12" text-anchor="middle" >100</text>
<text transform="translate(517 195.73) scale(1 1.07)" font-size="9.3" fill="#1a1a1a" stroke="#1a1a1a" stroke-width="0.12" text-anchor="middle" >Neighboring Pd atoms (%)</text>
<text transform="translate(447.64 93.6) rotate(-90) scale(1 1.07)" font-size="9.75" fill="#1a1a1a" stroke="#1a1a1a" stroke-width="0.12" text-anchor="middle">TOF (min<tspan font-size="6" dy="-3.5">-1</tspan><tspan dy="3.5">)</tspan></text>
<path d="M480.2,149.6 Q484,115 489.2,90.2 Q510,52 535.5,12.8" fill="none" stroke="#999" stroke-width="0.85" stroke-dasharray="2.6,2"/>
<polygon points="480.2,146.15 481.13,148.63 483.77,148.74 481.7,150.39 482.4,152.93 480.2,151.47 478,152.93 478.7,150.39 476.63,148.74 479.27,148.63" fill="white" stroke="#2f7dc0" stroke-width="1.1" stroke-linejoin="miter"/>
<polygon points="489.2,86.55 490.13,89.03 492.77,89.14 490.7,90.79 491.4,93.33 489.2,91.88 487,93.33 487.7,90.79 485.63,89.14 488.27,89.03" fill="white" stroke="#86bd5e" stroke-width="1.1" stroke-linejoin="miter"/>
<polygon points="535.5,9.25 536.43,11.73 539.07,11.84 537,13.49 537.7,16.03 535.5,14.57 533.3,16.03 534,13.49 531.93,11.84 534.57,11.73" fill="white" stroke="#f57a7a" stroke-width="1.1" stroke-linejoin="miter"/>
<polygon points="555,153.75 555.93,156.23 558.57,156.34 556.5,157.99 557.2,160.53 555,159.07 552.8,160.53 553.5,157.99 551.43,156.34 554.07,156.23" fill="white" stroke="#eaae45" stroke-width="1.1" stroke-linejoin="miter"/>
<text transform="translate(484 15.5) scale(1 1.07)" font-size="7.85" fill="#1a1a1a" stroke="#1a1a1a" stroke-width="0.12" text-anchor="start" >5.6%-Pd/SiC</text>
<text transform="translate(495.2 93.2) scale(1 1.07)" font-size="7.85" fill="#1a1a1a" stroke="#1a1a1a" stroke-width="0.12" text-anchor="start" >1.0%-Pd/SiC</text>
<text transform="translate(487 152.7) scale(1 1.07)" font-size="7.85" fill="#1a1a1a" stroke="#1a1a1a" stroke-width="0.12" text-anchor="start" >0.5%-Pd/SiC</text>
<text transform="translate(558.2 131.5) rotate(-90) scale(1 1.07)" font-size="8" fill="#1a1a1a" stroke="#1a1a1a" stroke-width="0.12" text-anchor="middle">Pd<tspan font-size="4.3" dy="1.4">nano</tspan><tspan dy="-1.4">/SiC</tspan></text>
<text transform="translate(574.5 11.38) scale(1 1.07)" font-size="15" fill="#000" stroke="#000" stroke-width="0.12" text-anchor="start" >d</text>
<rect x="604.2" y="5.2" width="79.8" height="173.7" fill="none" stroke="#333" stroke-width="1.1"/>
<line x1="601.2" y1="178.9" x2="604.2" y2="178.9" stroke="#333" stroke-width="1" />
<text transform="translate(598.5 182.29) scale(1 1.07)" font-size="7.6" fill="#1a1a1a" stroke="#1a1a1a" stroke-width="0.12" text-anchor="end" >0</text>
<line x1="601.2" y1="147.4" x2="604.2" y2="147.4" stroke="#333" stroke-width="1" />
<text transform="translate(598.5 150.79) scale(1 1.07)" font-size="7.6" fill="#1a1a1a" stroke="#1a1a1a" stroke-width="0.12" text-anchor="end" >20</text>
<line x1="601.2" y1="115.9" x2="604.2" y2="115.9" stroke="#333" stroke-width="1" />
<text transform="translate(598.5 119.29) scale(1 1.07)" font-size="7.6" fill="#1a1a1a" stroke="#1a1a1a" stroke-width="0.12" text-anchor="end" >40</text>
<line x1="601.2" y1="84.4" x2="604.2" y2="84.4" stroke="#333" stroke-width="1" />
<text transform="translate(598.5 87.79) scale(1 1.07)" font-size="7.6" fill="#1a1a1a" stroke="#1a1a1a" stroke-width="0.12" text-anchor="end" >60</text>
<line x1="601.2" y1="52.9" x2="604.2" y2="52.9" stroke="#333" stroke-width="1" />
<text transform="translate(598.5 56.29) scale(1 1.07)" font-size="7.6" fill="#1a1a1a" stroke="#1a1a1a" stroke-width="0.12" text-anchor="end" >80</text>
<line x1="601.2" y1="21.4" x2="604.2" y2="21.4" stroke="#333" stroke-width="1" />
<text transform="translate(598.5 24.79) scale(1 1.07)" font-size="7.6" fill="#1a1a1a" stroke="#1a1a1a" stroke-width="0.12" text-anchor="end" >100</text>
<line x1="602.5" y1="163.15" x2="604.2" y2="163.15" stroke="#333" stroke-width="1" />
<line x1="602.5" y1="131.65" x2="604.2" y2="131.65" stroke="#333" stroke-width="1" />
<line x1="602.5" y1="100.15" x2="604.2" y2="100.15" stroke="#333" stroke-width="1" />
<line x1="602.5" y1="68.65" x2="604.2" y2="68.65" stroke="#333" stroke-width="1" />
<line x1="602.5" y1="37.15" x2="604.2" y2="37.15" stroke="#333" stroke-width="1" />
<text transform="translate(582.85 92) rotate(-90) scale(1 1.07)" font-size="9.8" fill="#1a1a1a" stroke="#1a1a1a" stroke-width="0.12" text-anchor="middle">Selectivity (%)</text>
<line x1="614.3" y1="26" x2="614.3" y2="53" stroke="#2f7dc0" stroke-width="0.9" stroke-dasharray="2.2,1.6"/>
<polygon points="614.3,17.85 615.23,20.33 617.87,20.44 615.8,22.09 616.5,24.63 614.3,23.18 612.1,24.63 612.8,22.09 610.73,20.44 613.37,20.33" fill="white" stroke="#2f7dc0" stroke-width="1.1" stroke-linejoin="miter"/>
<line x1="634.2" y1="26" x2="634.2" y2="39.2" stroke="#86bd5e" stroke-width="0.9" stroke-dasharray="2.2,1.6"/>
<polygon points="634.2,17.85 635.13,20.33 637.77,20.44 635.7,22.09 636.4,24.63 634.2,23.18 632,24.63 632.7,22.09 630.63,20.44 633.27,20.33" fill="white" stroke="#86bd5e" stroke-width="1.1" stroke-linejoin="miter"/>
<line x1="654.3" y1="26" x2="654.3" y2="29" stroke="#f57a7a" stroke-width="0.9" stroke-dasharray="2.2,1.6"/>
<polygon points="654.3,17.85 655.23,20.33 657.87,20.44 655.8,22.09 656.5,24.63 654.3,23.18 652.1,24.63 652.8,22.09 650.73,20.44 653.37,20.33" fill="white" stroke="#f57a7a" stroke-width="1.1" stroke-linejoin="miter"/>
<polygon points="674.1,71.25 675.03,73.73 677.67,73.84 675.6,75.49 676.3,78.03 674.1,76.58 671.9,78.03 672.6,75.49 670.53,73.84 673.17,73.73" fill="white" stroke="#eaae45" stroke-width="1.1" stroke-linejoin="miter"/>
<text transform="translate(636.7 36.4) scale(1 1.07)" font-size="7.85" fill="#1a1a1a" stroke="#1a1a1a" stroke-width="0.12" text-anchor="start" >5.6%-Pd/SiC</text>
<text transform="translate(622.9 47) scale(1 1.07)" font-size="7.85" fill="#1a1a1a" stroke="#1a1a1a" stroke-width="0.12" text-anchor="start" >1.0%-Pd/SiC</text>
<text transform="translate(610.2 59.4) scale(1 1.07)" font-size="7.85" fill="#1a1a1a" stroke="#1a1a1a" stroke-width="0.12" text-anchor="start" >0.5%-Pd/SiC</text>
<text transform="translate(648 86.9) scale(1 1.07)" font-size="8.0" fill="#1a1a1a" stroke="#1a1a1a" stroke-width="0.12" text-anchor="start" >Pd<tspan font-size="4.3" dy="1.4">nano</tspan><tspan dy="-1.4">/SiC</tspan></text>
<text transform="translate(0.5 219.68) scale(1 1.07)" font-size="15" fill="#000" stroke="#000" stroke-width="0.12" text-anchor="start" >e</text>
<rect x="181.3" y="217.2" width="42.9" height="169.1" fill="#d6d6d6"/>
<line x1="181.3" y1="217.2" x2="181.3" y2="386.3" stroke="#777" stroke-width="0.8" />
<line x1="31" y1="377.6" x2="34" y2="377.6" stroke="#555555" stroke-width="1" />
<text transform="translate(29.5 380.6) scale(1 1.07)" font-size="7.8" fill="#1a1a1a" stroke="#1a1a1a" stroke-width="0.12" text-anchor="end" >0</text>
<line x1="31" y1="328.5" x2="34" y2="328.5" stroke="#555555" stroke-width="1" />
<text transform="translate(29.5 331.5) scale(1 1.07)" font-size="7.8" fill="#1a1a1a" stroke="#1a1a1a" stroke-width="0.12" text-anchor="end" >40</text>
<line x1="31" y1="279.4" x2="34" y2="279.4" stroke="#555555" stroke-width="1" />
<text transform="translate(29.5 282.4) scale(1 1.07)" font-size="7.8" fill="#1a1a1a" stroke="#1a1a1a" stroke-width="0.12" text-anchor="end" >80</text>
<line x1="31" y1="230.3" x2="34" y2="230.3" stroke="#555555" stroke-width="1" />
<text transform="translate(29.5 233.3) scale(1 1.07)" font-size="7.8" fill="#1a1a1a" stroke="#1a1a1a" stroke-width="0.12" text-anchor="end" >120</text>
<line x1="32.3" y1="353.05" x2="34" y2="353.05" stroke="#555555" stroke-width="1" />
<line x1="32.3" y1="303.95" x2="34" y2="303.95" stroke="#555555" stroke-width="1" />
<line x1="32.3" y1="254.85" x2="34" y2="254.85" stroke="#555555" stroke-width="1" />
<line x1="42.4" y1="386.3" x2="42.4" y2="389.3" stroke="#555555" stroke-width="1" />
<text transform="translate(42.4 399.4) scale(1 1.07)" font-size="7.8" fill="#1a1a1a" stroke="#1a1a1a" stroke-width="0.12" text-anchor="middle" >0</text>
<line x1="87" y1="386.3" x2="87" y2="389.3" stroke="#555555" stroke-width="1" />
<text transform="translate(87 399.4) scale(1 1.07)" font-size="7.8" fill="#1a1a1a" stroke="#1a1a1a" stroke-width="0.12" text-anchor="middle" >5</text>
<line x1="131.6" y1="386.3" x2="131.6" y2="389.3" stroke="#555555" stroke-width="1" />
<text transform="translate(131.6 399.4) scale(1 1.07)" font-size="7.8" fill="#1a1a1a" stroke="#1a1a1a" stroke-width="0.12" text-anchor="middle" >10</text>
<line x1="176.2" y1="386.3" x2="176.2" y2="389.3" stroke="#555555" stroke-width="1" />
<text transform="translate(176.2 399.4) scale(1 1.07)" font-size="7.8" fill="#1a1a1a" stroke="#1a1a1a" stroke-width="0.12" text-anchor="middle" >15</text>
<line x1="64.7" y1="386.3" x2="64.7" y2="388" stroke="#555555" stroke-width="1" />
<line x1="109.3" y1="386.3" x2="109.3" y2="388" stroke="#555555" stroke-width="1" />
<line x1="153.9" y1="386.3" x2="153.9" y2="388" stroke="#555555" stroke-width="1" />
<text transform="translate(123.4 409.63) scale(1 1.07)" font-size="9.3" fill="#1a1a1a" stroke="#1a1a1a" stroke-width="0.12" text-anchor="middle" >Time (min)</text>
<text transform="translate(11.74 304.25) rotate(-90) scale(1 1.07)" font-size="9.7" fill="#1a1a1a" stroke="#1a1a1a" stroke-width="0.12" text-anchor="middle">Concentration (μM)</text>
<polyline points="42.4,241.96 51.32,360.17 69.16,371.95 87,376.86 113.76,377.6 131.6,377.6 176.2,377.6" fill="none" stroke="#7a7a7a" stroke-width="0.9" stroke-linejoin="round" />
<rect x="39.17" y="238.74" width="6.45" height="6.45" fill="white" stroke="#a2a2a2" stroke-width="0.75"/>
<circle cx="42.4" cy="241.96" r="0.4" fill="#a2a2a2" opacity="0.5"/>
<rect x="48.09" y="356.94" width="6.45" height="6.45" fill="white" stroke="#a2a2a2" stroke-width="0.75"/>
<circle cx="51.32" cy="360.17" r="0.4" fill="#a2a2a2" opacity="0.5"/>
<rect x="65.94" y="368.73" width="6.45" height="6.45" fill="white" stroke="#a2a2a2" stroke-width="0.75"/>
<circle cx="69.16" cy="371.95" r="0.4" fill="#a2a2a2" opacity="0.5"/>
<rect x="83.78" y="373.64" width="6.45" height="6.45" fill="white" stroke="#a2a2a2" stroke-width="0.75"/>
<circle cx="87" cy="376.86" r="0.4" fill="#a2a2a2" opacity="0.5"/>
<rect x="110.53" y="374.38" width="6.45" height="6.45" fill="white" stroke="#a2a2a2" stroke-width="0.75"/>
<circle cx="113.76" cy="377.6" r="0.4" fill="#a2a2a2" opacity="0.5"/>
<rect x="128.38" y="374.38" width="6.45" height="6.45" fill="white" stroke="#a2a2a2" stroke-width="0.75"/>
<circle cx="131.6" cy="377.6" r="0.4" fill="#a2a2a2" opacity="0.5"/>
<rect x="172.98" y="374.38" width="6.45" height="6.45" fill="white" stroke="#a2a2a2" stroke-width="0.75"/>
<circle cx="176.2" cy="377.6" r="0.4" fill="#a2a2a2" opacity="0.5"/>
<line x1="48.32" y1="358.33" x2="54.32" y2="358.33" stroke="#8a8a8a" stroke-width="1.0" />
<line x1="48.32" y1="362.01" x2="54.32" y2="362.01" stroke="#8a8a8a" stroke-width="1.0" />
<line x1="66.16" y1="370.11" x2="72.16" y2="370.11" stroke="#8a8a8a" stroke-width="1.0" />
<line x1="66.16" y1="373.79" x2="72.16" y2="373.79" stroke="#8a8a8a" stroke-width="1.0" />
<line x1="84" y1="375.02" x2="90" y2="375.02" stroke="#8a8a8a" stroke-width="1.0" />
<line x1="84" y1="378.7" x2="90" y2="378.7" stroke="#8a8a8a" stroke-width="1.0" />
<polyline points="42.4,377.6 51.32,303.95 69.16,240.12 87,235.82 131.6,245.52 176.2,237.91" fill="none" stroke="#f57a7a" stroke-width="0.9" stroke-linejoin="round" />
<polygon points="42.4,372.13 47.2,380.33 37.6,380.33" fill="white" stroke="#f57a7a" stroke-width="0.8"/>
<circle cx="42.4" cy="377.6" r="0.4" fill="#f57a7a" opacity="0.5"/>
<polygon points="51.32,298.48 56.12,306.68 46.52,306.68" fill="white" stroke="#f57a7a" stroke-width="0.8"/>
<circle cx="51.32" cy="303.95" r="0.4" fill="#f57a7a" opacity="0.5"/>
<polygon points="69.16,234.65 73.96,242.85 64.36,242.85" fill="white" stroke="#f57a7a" stroke-width="0.8"/>
<circle cx="69.16" cy="240.12" r="0.4" fill="#f57a7a" opacity="0.5"/>
<polygon points="87,230.36 91.8,238.56 82.2,238.56" fill="white" stroke="#f57a7a" stroke-width="0.8"/>
<circle cx="87" cy="235.82" r="0.4" fill="#f57a7a" opacity="0.5"/>
<polygon points="131.6,240.05 136.4,248.25 126.8,248.25" fill="white" stroke="#f57a7a" stroke-width="0.8"/>
<circle cx="131.6" cy="245.52" r="0.4" fill="#f57a7a" opacity="0.5"/>
<polygon points="176.2,232.44 181,240.64 171.4,240.64" fill="white" stroke="#f57a7a" stroke-width="0.8"/>
<circle cx="176.2" cy="237.91" r="0.4" fill="#f57a7a" opacity="0.5"/>
<polyline points="42.4,377.6 51.32,253.99 69.16,247.49 87,240.98 113.76,239.26 131.6,239.26 176.2,240.49" fill="none" stroke="#2f7dc0" stroke-width="1.2" stroke-linejoin="round" />
<circle cx="42.4" cy="377.6" r="3.88" fill="white" stroke="#2f7dc0" stroke-width="0.85"/>
<circle cx="42.4" cy="377.6" r="0.4" fill="#2f7dc0" opacity="0.5"/>
<circle cx="51.32" cy="253.99" r="3.88" fill="white" stroke="#2f7dc0" stroke-width="0.85"/>
<circle cx="51.32" cy="253.99" r="0.4" fill="#2f7dc0" opacity="0.5"/>
<circle cx="69.16" cy="247.49" r="3.88" fill="white" stroke="#2f7dc0" stroke-width="0.85"/>
<circle cx="69.16" cy="247.49" r="0.4" fill="#2f7dc0" opacity="0.5"/>
<circle cx="87" cy="240.98" r="3.88" fill="white" stroke="#2f7dc0" stroke-width="0.85"/>
<circle cx="87" cy="240.98" r="0.4" fill="#2f7dc0" opacity="0.5"/>
<circle cx="113.76" cy="239.26" r="3.88" fill="white" stroke="#2f7dc0" stroke-width="0.85"/>
<circle cx="113.76" cy="239.26" r="0.4" fill="#2f7dc0" opacity="0.5"/>
<circle cx="131.6" cy="239.26" r="3.88" fill="white" stroke="#2f7dc0" stroke-width="0.85"/>
<circle cx="131.6" cy="239.26" r="0.4" fill="#2f7dc0" opacity="0.5"/>
<circle cx="176.2" cy="240.49" r="3.88" fill="white" stroke="#2f7dc0" stroke-width="0.85"/>
<circle cx="176.2" cy="240.49" r="0.4" fill="#2f7dc0" opacity="0.5"/>
<line x1="48.32" y1="251.54" x2="54.32" y2="251.54" stroke="#2f7dc0" stroke-width="1.0" />
<line x1="48.32" y1="256.45" x2="54.32" y2="256.45" stroke="#2f7dc0" stroke-width="1.0" />
<line x1="69.16" y1="239.51" x2="69.16" y2="243.19" stroke="#2f7dc0" stroke-width="1.0" />
<line x1="69.16" y1="251.79" x2="69.16" y2="255.46" stroke="#2f7dc0" stroke-width="1.0" />
<line x1="66.16" y1="239.51" x2="72.16" y2="239.51" stroke="#2f7dc0" stroke-width="1.0" />
<line x1="66.16" y1="255.46" x2="72.16" y2="255.46" stroke="#2f7dc0" stroke-width="1.0" />
<line x1="84" y1="237.91" x2="90" y2="237.91" stroke="#2f7dc0" stroke-width="1.0" />
<line x1="84" y1="244.05" x2="90" y2="244.05" stroke="#2f7dc0" stroke-width="1.0" />
<line x1="110.76" y1="236.19" x2="116.76" y2="236.19" stroke="#2f7dc0" stroke-width="1.0" />
<line x1="110.76" y1="242.33" x2="116.76" y2="242.33" stroke="#2f7dc0" stroke-width="1.0" />
<line x1="128.6" y1="236.19" x2="134.6" y2="236.19" stroke="#2f7dc0" stroke-width="1.0" />
<line x1="128.6" y1="242.33" x2="134.6" y2="242.33" stroke="#2f7dc0" stroke-width="1.0" />
<line x1="173.2" y1="238.03" x2="179.2" y2="238.03" stroke="#2f7dc0" stroke-width="1.0" />
<line x1="173.2" y1="242.94" x2="179.2" y2="242.94" stroke="#2f7dc0" stroke-width="1.0" />
<rect x="91.58" y="324.67" width="6.45" height="6.45" fill="white" stroke="#a2a2a2" stroke-width="0.75"/>
<circle cx="94.8" cy="327.9" r="0.4" fill="#a2a2a2" opacity="0.5"/>
<text transform="translate(104.8 330.8) scale(1 1.07)" font-size="8.0" fill="#1a1a1a" stroke="#1a1a1a" stroke-width="0.12" text-anchor="start" >4-CP</text>
<circle cx="94.8" cy="339.3" r="3.88" fill="white" stroke="#2f7dc0" stroke-width="0.85"/>
<circle cx="94.8" cy="339.3" r="0.4" fill="#2f7dc0" opacity="0.5"/>
<text transform="translate(104.8 342.2) scale(1 1.07)" font-size="8.0" fill="#1a1a1a" stroke="#1a1a1a" stroke-width="0.12" text-anchor="start" >Phenol</text>
<polygon points="94.8,345.23 99.6,353.43 90,353.43" fill="white" stroke="#f57a7a" stroke-width="0.85"/>
<circle cx="94.8" cy="350.7" r="0.4" fill="#f57a7a" opacity="0.5"/>
<text transform="translate(104.8 353.6) scale(1 1.07)" font-size="8.0" fill="#1a1a1a" stroke="#1a1a1a" stroke-width="0.12" text-anchor="start" >Cl<tspan font-size="5.5" dy="-3.6">−</tspan></text>
<rect x="34" y="217.2" width="190.2" height="169.1" fill="none" stroke="#7c7c7c" stroke-width="1.3"/>
<polygon points="42.4,372.13 47.2,380.33 37.6,380.33" fill="white" stroke="#f57a7a" stroke-width="0.8"/>
<circle cx="42.4" cy="377.6" r="0.4" fill="#f57a7a" opacity="0.5"/>
<line x1="210.4" y1="351.5" x2="210.4" y2="260" stroke="#2f7dc0" stroke-width="1.1" stroke-dasharray="2.6,1.6"/>
<path d="M210.4,251.8 L213.1,260.5 L210.4,259.2 L207.7,260.5 Z" fill="#2f7dc0"/>
<path d="M210.4,320.5 Q208.9,289.17 195.25,263.54" fill="none" stroke="#f57a7a" stroke-width="1" stroke-dasharray="2.4,1.7"/>
<path d="M190.9,257.8 L198.18,262.95 L195.11,263.36 L193.88,266.21 Z" fill="#f57a7a"/>
<text transform="translate(181.9 255.13) scale(1 1.07)" font-size="9" fill="#f57a7a" stroke="#f57a7a" stroke-width="0.12" text-anchor="start" >Cl<tspan font-size="5.5" dy="-3.6">−</tspan></text>
<polygon points="212.8,236.5 209.15,242.82 201.85,242.82 198.2,236.5 201.85,230.18 209.15,230.18" fill="none" stroke="#4a86bf" stroke-width="0.8" stroke-linejoin="round"/>
<line x1="203.45" y1="231.82" x2="207.55" y2="231.82" stroke="#4a86bf" stroke-width="0.8" />
<line x1="208.53" y1="232.38" x2="210.58" y2="235.94" stroke="#4a86bf" stroke-width="0.8" />
<line x1="202.47" y1="240.62" x2="200.42" y2="237.06" stroke="#4a86bf" stroke-width="0.8" />
<line x1="209.15" y1="242.82" x2="211.75" y2="246.82" stroke="#4a86bf" stroke-width="0.8" />
<text transform="translate(212 251.43) scale(1 1.07)" font-size="6.3" fill="#4a86bf" stroke="#4a86bf" stroke-width="0.12" text-anchor="start" >OH</text>
<polygon points="214.5,364.3 211,370.36 204,370.36 200.5,364.3 204,358.24 211,358.24" fill="none" stroke="#4a86bf" stroke-width="0.8" stroke-linejoin="round"/>
<line x1="205.53" y1="359.81" x2="209.47" y2="359.81" stroke="#4a86bf" stroke-width="0.8" />
<line x1="210.4" y1="360.35" x2="212.37" y2="363.76" stroke="#4a86bf" stroke-width="0.8" />
<line x1="204.6" y1="368.25" x2="202.63" y2="364.84" stroke="#4a86bf" stroke-width="0.8" />
<line x1="204" y1="358.24" x2="202.2" y2="356.29" stroke="#4a86bf" stroke-width="0.8" />
<line x1="202.2" y1="356.29" x2="200.4" y2="354.34" stroke="#e9553f" stroke-width="0.8" />
<text transform="translate(196.3 353.63) scale(1 1.07)" font-size="6.3" fill="#e9553f" stroke="#e9553f" stroke-width="0.12" text-anchor="start" >Cl</text>
<line x1="211" y1="370.36" x2="213.6" y2="374.36" stroke="#4a86bf" stroke-width="0.8" />
<text transform="translate(213 380.03) scale(1 1.07)" font-size="6.3" fill="#4a86bf" stroke="#4a86bf" stroke-width="0.12" text-anchor="start" >OH</text>
<text transform="translate(234 218.88) scale(1 1.07)" font-size="15" fill="#000" stroke="#000" stroke-width="0.12" text-anchor="start" >f</text>
<rect x="410.6" y="217.1" width="43.4" height="169.4" fill="#d6d6d6"/>
<line x1="410.6" y1="217.1" x2="410.6" y2="386.5" stroke="#777" stroke-width="0.8" />
<line x1="260.6" y1="375.5" x2="263.6" y2="375.5" stroke="#555555" stroke-width="1" />
<text transform="translate(259.1 378.5) scale(1 1.07)" font-size="7.8" fill="#1a1a1a" stroke="#1a1a1a" stroke-width="0.12" text-anchor="end" >0</text>
<line x1="260.6" y1="318.38" x2="263.6" y2="318.38" stroke="#555555" stroke-width="1" />
<text transform="translate(259.1 321.38) scale(1 1.07)" font-size="7.8" fill="#1a1a1a" stroke="#1a1a1a" stroke-width="0.12" text-anchor="end" >40</text>
<line x1="260.6" y1="261.26" x2="263.6" y2="261.26" stroke="#555555" stroke-width="1" />
<text transform="translate(259.1 264.26) scale(1 1.07)" font-size="7.8" fill="#1a1a1a" stroke="#1a1a1a" stroke-width="0.12" text-anchor="end" >80</text>
<line x1="261.9" y1="346.94" x2="263.6" y2="346.94" stroke="#555555" stroke-width="1" />
<line x1="261.9" y1="289.82" x2="263.6" y2="289.82" stroke="#555555" stroke-width="1" />
<line x1="261.9" y1="232.7" x2="263.6" y2="232.7" stroke="#555555" stroke-width="1" />
<line x1="272.6" y1="386.5" x2="272.6" y2="389.5" stroke="#555555" stroke-width="1" />
<text transform="translate(272.6 399.6) scale(1 1.07)" font-size="7.8" fill="#1a1a1a" stroke="#1a1a1a" stroke-width="0.12" text-anchor="middle" >0</text>
<line x1="317.05" y1="386.5" x2="317.05" y2="389.5" stroke="#555555" stroke-width="1" />
<text transform="translate(317.05 399.6) scale(1 1.07)" font-size="7.8" fill="#1a1a1a" stroke="#1a1a1a" stroke-width="0.12" text-anchor="middle" >5</text>
<line x1="361.5" y1="386.5" x2="361.5" y2="389.5" stroke="#555555" stroke-width="1" />
<text transform="translate(361.5 399.6) scale(1 1.07)" font-size="7.8" fill="#1a1a1a" stroke="#1a1a1a" stroke-width="0.12" text-anchor="middle" >10</text>
<line x1="405.95" y1="386.5" x2="405.95" y2="389.5" stroke="#555555" stroke-width="1" />
<text transform="translate(405.95 399.6) scale(1 1.07)" font-size="7.8" fill="#1a1a1a" stroke="#1a1a1a" stroke-width="0.12" text-anchor="middle" >15</text>
<line x1="294.83" y1="386.5" x2="294.83" y2="388.2" stroke="#555555" stroke-width="1" />
<line x1="339.28" y1="386.5" x2="339.28" y2="388.2" stroke="#555555" stroke-width="1" />
<line x1="383.73" y1="386.5" x2="383.73" y2="388.2" stroke="#555555" stroke-width="1" />
<text transform="translate(353.5 409.63) scale(1 1.07)" font-size="9.3" fill="#1a1a1a" stroke="#1a1a1a" stroke-width="0.12" text-anchor="middle" >Time (min)</text>
<text transform="translate(241.74 304.3) rotate(-90) scale(1 1.07)" font-size="9.7" fill="#1a1a1a" stroke="#1a1a1a" stroke-width="0.12" text-anchor="middle">Concentration (μM)</text>
<polyline points="272.6,251.55 281.49,346.65 299.27,372.36 317.05,375.5 343.72,375.5 361.5,375.5 405.95,375.5" fill="none" stroke="#7a7a7a" stroke-width="0.9" stroke-linejoin="round" />
<rect x="269.38" y="248.32" width="6.45" height="6.45" fill="white" stroke="#a2a2a2" stroke-width="0.75"/>
<circle cx="272.6" cy="251.55" r="0.4" fill="#a2a2a2" opacity="0.5"/>
<rect x="278.26" y="343.43" width="6.45" height="6.45" fill="white" stroke="#a2a2a2" stroke-width="0.75"/>
<circle cx="281.49" cy="346.65" r="0.4" fill="#a2a2a2" opacity="0.5"/>
<rect x="296.05" y="369.13" width="6.45" height="6.45" fill="white" stroke="#a2a2a2" stroke-width="0.75"/>
<circle cx="299.27" cy="372.36" r="0.4" fill="#a2a2a2" opacity="0.5"/>
<rect x="313.82" y="372.27" width="6.45" height="6.45" fill="white" stroke="#a2a2a2" stroke-width="0.75"/>
<circle cx="317.05" cy="375.5" r="0.4" fill="#a2a2a2" opacity="0.5"/>
<rect x="340.5" y="372.27" width="6.45" height="6.45" fill="white" stroke="#a2a2a2" stroke-width="0.75"/>
<circle cx="343.72" cy="375.5" r="0.4" fill="#a2a2a2" opacity="0.5"/>
<rect x="358.27" y="372.27" width="6.45" height="6.45" fill="white" stroke="#a2a2a2" stroke-width="0.75"/>
<circle cx="361.5" cy="375.5" r="0.4" fill="#a2a2a2" opacity="0.5"/>
<rect x="402.73" y="372.27" width="6.45" height="6.45" fill="white" stroke="#a2a2a2" stroke-width="0.75"/>
<circle cx="405.95" cy="375.5" r="0.4" fill="#a2a2a2" opacity="0.5"/>
<line x1="278.49" y1="344.51" x2="284.49" y2="344.51" stroke="#8a8a8a" stroke-width="1.0" />
<line x1="278.49" y1="348.8" x2="284.49" y2="348.8" stroke="#8a8a8a" stroke-width="1.0" />
<line x1="296.27" y1="370.22" x2="302.27" y2="370.22" stroke="#8a8a8a" stroke-width="1.0" />
<line x1="296.27" y1="374.5" x2="302.27" y2="374.5" stroke="#8a8a8a" stroke-width="1.0" />
<polyline points="272.6,375.5 281.49,313.67 299.27,258.69 317.05,246.12 343.72,245.41 361.5,246.41 405.95,246.41" fill="none" stroke="#2f7dc0" stroke-width="1.2" stroke-linejoin="round" />
<circle cx="272.6" cy="375.5" r="3.88" fill="white" stroke="#2f7dc0" stroke-width="0.85"/>
<circle cx="272.6" cy="375.5" r="0.4" fill="#2f7dc0" opacity="0.5"/>
<circle cx="281.49" cy="313.67" r="3.88" fill="white" stroke="#2f7dc0" stroke-width="0.85"/>
<circle cx="281.49" cy="313.67" r="0.4" fill="#2f7dc0" opacity="0.5"/>
<circle cx="299.27" cy="258.69" r="3.88" fill="white" stroke="#2f7dc0" stroke-width="0.85"/>
<circle cx="299.27" cy="258.69" r="0.4" fill="#2f7dc0" opacity="0.5"/>
<circle cx="317.05" cy="246.12" r="3.88" fill="white" stroke="#2f7dc0" stroke-width="0.85"/>
<circle cx="317.05" cy="246.12" r="0.4" fill="#2f7dc0" opacity="0.5"/>
<circle cx="343.72" cy="245.41" r="3.88" fill="white" stroke="#2f7dc0" stroke-width="0.85"/>
<circle cx="343.72" cy="245.41" r="0.4" fill="#2f7dc0" opacity="0.5"/>
<circle cx="361.5" cy="246.41" r="3.88" fill="white" stroke="#2f7dc0" stroke-width="0.85"/>
<circle cx="361.5" cy="246.41" r="0.4" fill="#2f7dc0" opacity="0.5"/>
<circle cx="405.95" cy="246.41" r="3.88" fill="white" stroke="#2f7dc0" stroke-width="0.85"/>
<circle cx="405.95" cy="246.41" r="0.4" fill="#2f7dc0" opacity="0.5"/>
<line x1="281.49" y1="308.67" x2="281.49" y2="309.37" stroke="#2f7dc0" stroke-width="1.0" />
<line x1="281.49" y1="317.97" x2="281.49" y2="318.67" stroke="#2f7dc0" stroke-width="1.0" />
<line x1="278.49" y1="308.67" x2="284.49" y2="308.67" stroke="#2f7dc0" stroke-width="1.0" />
<line x1="278.49" y1="318.67" x2="284.49" y2="318.67" stroke="#2f7dc0" stroke-width="1.0" />
<line x1="299.27" y1="251.55" x2="299.27" y2="254.39" stroke="#2f7dc0" stroke-width="1.0" />
<line x1="299.27" y1="262.99" x2="299.27" y2="265.83" stroke="#2f7dc0" stroke-width="1.0" />
<line x1="296.27" y1="251.55" x2="302.27" y2="251.55" stroke="#2f7dc0" stroke-width="1.0" />
<line x1="296.27" y1="265.83" x2="302.27" y2="265.83" stroke="#2f7dc0" stroke-width="1.0" />
<line x1="317.05" y1="239.7" x2="317.05" y2="241.82" stroke="#2f7dc0" stroke-width="1.0" />
<line x1="317.05" y1="250.42" x2="317.05" y2="252.55" stroke="#2f7dc0" stroke-width="1.0" />
<line x1="314.05" y1="239.7" x2="320.05" y2="239.7" stroke="#2f7dc0" stroke-width="1.0" />
<line x1="314.05" y1="252.55" x2="320.05" y2="252.55" stroke="#2f7dc0" stroke-width="1.0" />
<line x1="343.72" y1="238.27" x2="343.72" y2="241.11" stroke="#2f7dc0" stroke-width="1.0" />
<line x1="343.72" y1="249.71" x2="343.72" y2="252.55" stroke="#2f7dc0" stroke-width="1.0" />
<line x1="340.72" y1="238.27" x2="346.72" y2="238.27" stroke="#2f7dc0" stroke-width="1.0" />
<line x1="340.72" y1="252.55" x2="346.72" y2="252.55" stroke="#2f7dc0" stroke-width="1.0" />
<line x1="361.5" y1="239.98" x2="361.5" y2="242.11" stroke="#2f7dc0" stroke-width="1.0" />
<line x1="361.5" y1="250.71" x2="361.5" y2="252.83" stroke="#2f7dc0" stroke-width="1.0" />
<line x1="358.5" y1="239.98" x2="364.5" y2="239.98" stroke="#2f7dc0" stroke-width="1.0" />
<line x1="358.5" y1="252.83" x2="364.5" y2="252.83" stroke="#2f7dc0" stroke-width="1.0" />
<line x1="405.95" y1="239.98" x2="405.95" y2="242.11" stroke="#2f7dc0" stroke-width="1.0" />
<line x1="405.95" y1="250.71" x2="405.95" y2="252.83" stroke="#2f7dc0" stroke-width="1.0" />
<line x1="402.95" y1="239.98" x2="408.95" y2="239.98" stroke="#2f7dc0" stroke-width="1.0" />
<line x1="402.95" y1="252.83" x2="408.95" y2="252.83" stroke="#2f7dc0" stroke-width="1.0" />
<polyline points="272.6,375.5 281.49,300.53 299.27,252.98 317.05,254.41 343.72,252.41 361.5,252.41 405.95,255.41" fill="none" stroke="#f57a7a" stroke-width="0.9" stroke-linejoin="round" />
<polygon points="272.6,370.03 277.4,378.23 267.8,378.23" fill="white" stroke="#f57a7a" stroke-width="0.8"/>
<circle cx="272.6" cy="375.5" r="0.4" fill="#f57a7a" opacity="0.5"/>
<polygon points="281.49,295.06 286.29,303.26 276.69,303.26" fill="white" stroke="#f57a7a" stroke-width="0.8"/>
<circle cx="281.49" cy="300.53" r="0.4" fill="#f57a7a" opacity="0.5"/>
<polygon points="299.27,247.51 304.07,255.71 294.47,255.71" fill="white" stroke="#f57a7a" stroke-width="0.8"/>
<circle cx="299.27" cy="252.98" r="0.4" fill="#f57a7a" opacity="0.5"/>
<polygon points="317.05,248.94 321.85,257.14 312.25,257.14" fill="white" stroke="#f57a7a" stroke-width="0.8"/>
<circle cx="317.05" cy="254.41" r="0.4" fill="#f57a7a" opacity="0.5"/>
<polygon points="343.72,246.94 348.52,255.14 338.92,255.14" fill="white" stroke="#f57a7a" stroke-width="0.8"/>
<circle cx="343.72" cy="252.41" r="0.4" fill="#f57a7a" opacity="0.5"/>
<polygon points="361.5,246.94 366.3,255.14 356.7,255.14" fill="white" stroke="#f57a7a" stroke-width="0.8"/>
<circle cx="361.5" cy="252.41" r="0.4" fill="#f57a7a" opacity="0.5"/>
<polygon points="405.95,249.94 410.75,258.14 401.15,258.14" fill="white" stroke="#f57a7a" stroke-width="0.8"/>
<circle cx="405.95" cy="255.41" r="0.4" fill="#f57a7a" opacity="0.5"/>
<rect x="320.38" y="324.57" width="6.45" height="6.45" fill="white" stroke="#a2a2a2" stroke-width="0.75"/>
<circle cx="323.6" cy="327.8" r="0.4" fill="#a2a2a2" opacity="0.5"/>
<text transform="translate(333.6 330.7) scale(1 1.07)" font-size="8.0" fill="#1a1a1a" stroke="#1a1a1a" stroke-width="0.12" text-anchor="start" >2,4-D</text>
<circle cx="323.6" cy="339.2" r="3.88" fill="white" stroke="#2f7dc0" stroke-width="0.85"/>
<circle cx="323.6" cy="339.2" r="0.4" fill="#2f7dc0" opacity="0.5"/>
<text transform="translate(333.6 342.1) scale(1 1.07)" font-size="8.0" fill="#1a1a1a" stroke="#1a1a1a" stroke-width="0.12" text-anchor="start" >Phenoxyacetic acid</text>
<polygon points="323.6,345.13 328.4,353.33 318.8,353.33" fill="white" stroke="#f57a7a" stroke-width="0.85"/>
<circle cx="323.6" cy="350.6" r="0.4" fill="#f57a7a" opacity="0.5"/>
<text transform="translate(333.6 353.5) scale(1 1.07)" font-size="8.0" fill="#1a1a1a" stroke="#1a1a1a" stroke-width="0.12" text-anchor="start" >Cl<tspan font-size="5.5" dy="-3.6">−</tspan></text>
<rect x="263.6" y="217.1" width="190.4" height="169.4" fill="none" stroke="#7c7c7c" stroke-width="1.3"/>
<line x1="437.2" y1="336.7" x2="437.2" y2="269.2" stroke="#2f7dc0" stroke-width="1.1" stroke-dasharray="2.6,1.6"/>
<path d="M437.2,261 L439.9,269.7 L437.2,268.4 L434.5,269.7 Z" fill="#2f7dc0"/>
<path d="M437.2,319.5 Q435.7,296.7 421.75,278.04" fill="none" stroke="#f57a7a" stroke-width="1" stroke-dasharray="2.4,1.7"/>
<path d="M417.4,272.3 L424.68,277.45 L421.61,277.86 L420.38,280.71 Z" fill="#f57a7a"/>
<text transform="translate(412.3 269.23) scale(1 1.07)" font-size="9" fill="#f57a7a" stroke="#f57a7a" stroke-width="0.12" text-anchor="start" >Cl<tspan font-size="5.5" dy="-3.6">−</tspan></text>
<polygon points="428.3,250.5 424.8,256.56 417.8,256.56 414.3,250.5 417.8,244.44 424.8,244.44" fill="none" stroke="#4a86bf" stroke-width="0.8" stroke-linejoin="round"/>
<line x1="419.33" y1="246.01" x2="423.27" y2="246.01" stroke="#4a86bf" stroke-width="0.8" />
<line x1="418.4" y1="254.45" x2="416.43" y2="251.04" stroke="#4a86bf" stroke-width="0.8" />
<line x1="426.17" y1="251.04" x2="424.2" y2="254.45" stroke="#4a86bf" stroke-width="0.8" />
<text transform="translate(427.7 241.26) scale(1 1.07)" font-size="6.3" fill="#4a86bf" stroke="#4a86bf" stroke-width="0.12" text-anchor="middle" >O</text>
<line x1="424.8" y1="244.44" x2="426.4" y2="241.24" stroke="#4a86bf" stroke-width="0.8" />
<line x1="430" y1="238.94" x2="434.6" y2="239.04" stroke="#4a86bf" stroke-width="0.8" />
<line x1="434.6" y1="239.04" x2="438.2" y2="233.04" stroke="#4a86bf" stroke-width="0.8" />
<line x1="438.2" y1="233.04" x2="436" y2="229.44" stroke="#4a86bf" stroke-width="0.8" />
<line x1="439.3" y1="232.44" x2="437.2" y2="228.84" stroke="#4a86bf" stroke-width="0.8" />
<text transform="translate(434.9 229.66) scale(1 1.07)" font-size="6.3" fill="#4a86bf" stroke="#4a86bf" stroke-width="0.12" text-anchor="middle" >O</text>
<line x1="438.2" y1="233.04" x2="443.4" y2="233.04" stroke="#4a86bf" stroke-width="0.8" />
<text transform="translate(443.8 235.36) scale(1 1.07)" font-size="6.3" fill="#4a86bf" stroke="#4a86bf" stroke-width="0.12" text-anchor="start" >OH</text>
<polygon points="429.7,368.4 426.35,374.2 419.65,374.2 416.3,368.4 419.65,362.6 426.35,362.6" fill="none" stroke="#4a86bf" stroke-width="0.8" stroke-linejoin="round"/>
<line x1="421.12" y1="364.11" x2="424.88" y2="364.11" stroke="#4a86bf" stroke-width="0.8" />
<line x1="420.22" y1="372.18" x2="418.34" y2="368.92" stroke="#4a86bf" stroke-width="0.8" />
<line x1="427.66" y1="368.92" x2="425.78" y2="372.18" stroke="#4a86bf" stroke-width="0.8" />
<text transform="translate(429.25 359.42) scale(1 1.07)" font-size="6.3" fill="#4a86bf" stroke="#4a86bf" stroke-width="0.12" text-anchor="middle" >O</text>
<line x1="426.35" y1="362.6" x2="427.95" y2="359.4" stroke="#4a86bf" stroke-width="0.8" />
<line x1="431.55" y1="357.1" x2="436.15" y2="357.2" stroke="#4a86bf" stroke-width="0.8" />
<line x1="436.15" y1="357.2" x2="439.75" y2="351.2" stroke="#4a86bf" stroke-width="0.8" />
<line x1="439.75" y1="351.2" x2="437.55" y2="347.6" stroke="#4a86bf" stroke-width="0.8" />
<line x1="440.85" y1="350.6" x2="438.75" y2="347" stroke="#4a86bf" stroke-width="0.8" />
<text transform="translate(436.45 347.82) scale(1 1.07)" font-size="6.3" fill="#4a86bf" stroke="#4a86bf" stroke-width="0.12" text-anchor="middle" >O</text>
<line x1="439.75" y1="351.2" x2="444.95" y2="351.2" stroke="#4a86bf" stroke-width="0.8" />
<text transform="translate(445.35 353.52) scale(1 1.07)" font-size="6.3" fill="#4a86bf" stroke="#4a86bf" stroke-width="0.12" text-anchor="start" >OH</text>
<line x1="429.7" y1="368.4" x2="432.2" y2="368.4" stroke="#4a86bf" stroke-width="0.8" />
<line x1="432.2" y1="368.4" x2="434.7" y2="368.4" stroke="#e9553f" stroke-width="0.8" />
<text transform="translate(435 371.33) scale(1 1.07)" font-size="6.3" fill="#e9553f" stroke="#e9553f" stroke-width="0.12" text-anchor="start" >Cl</text>
<line x1="419.65" y1="374.2" x2="418.25" y2="376.2" stroke="#4a86bf" stroke-width="0.8" />
<line x1="418.25" y1="376.2" x2="416.85" y2="378.2" stroke="#e9553f" stroke-width="0.8" />
<text transform="translate(412.2 381.83) scale(1 1.07)" font-size="6.3" fill="#e9553f" stroke="#e9553f" stroke-width="0.12" text-anchor="start" >Cl</text>
<text transform="translate(463.5 218.38) scale(1 1.07)" font-size="15" fill="#000" stroke="#000" stroke-width="0.12" text-anchor="start" >g</text>
<rect x="638.3" y="216.8" width="46" height="169.6" fill="#d6d6d6"/>
<line x1="638.3" y1="216.8" x2="638.3" y2="386.4" stroke="#777" stroke-width="0.8" />
<line x1="491.2" y1="374.4" x2="494.2" y2="374.4" stroke="#555555" stroke-width="1" />
<text transform="translate(489.7 377.4) scale(1 1.07)" font-size="7.8" fill="#1a1a1a" stroke="#1a1a1a" stroke-width="0.12" text-anchor="end" >0</text>
<line x1="491.2" y1="312" x2="494.2" y2="312" stroke="#555555" stroke-width="1" />
<text transform="translate(489.7 315) scale(1 1.07)" font-size="7.8" fill="#1a1a1a" stroke="#1a1a1a" stroke-width="0.12" text-anchor="end" >40</text>
<line x1="491.2" y1="249.6" x2="494.2" y2="249.6" stroke="#555555" stroke-width="1" />
<text transform="translate(489.7 252.6) scale(1 1.07)" font-size="7.8" fill="#1a1a1a" stroke="#1a1a1a" stroke-width="0.12" text-anchor="end" >80</text>
<line x1="492.5" y1="343.2" x2="494.2" y2="343.2" stroke="#555555" stroke-width="1" />
<line x1="492.5" y1="280.8" x2="494.2" y2="280.8" stroke="#555555" stroke-width="1" />
<line x1="492.5" y1="218.4" x2="494.2" y2="218.4" stroke="#555555" stroke-width="1" />
<line x1="500" y1="386.4" x2="500" y2="389.4" stroke="#555555" stroke-width="1" />
<text transform="translate(500 399.5) scale(1 1.07)" font-size="7.8" fill="#1a1a1a" stroke="#1a1a1a" stroke-width="0.12" text-anchor="middle" >0</text>
<line x1="526.5" y1="386.4" x2="526.5" y2="389.4" stroke="#555555" stroke-width="1" />
<text transform="translate(526.5 399.5) scale(1 1.07)" font-size="7.8" fill="#1a1a1a" stroke="#1a1a1a" stroke-width="0.12" text-anchor="middle" >5</text>
<line x1="553" y1="386.4" x2="553" y2="389.4" stroke="#555555" stroke-width="1" />
<text transform="translate(553 399.5) scale(1 1.07)" font-size="7.8" fill="#1a1a1a" stroke="#1a1a1a" stroke-width="0.12" text-anchor="middle" >10</text>
<line x1="579.5" y1="386.4" x2="579.5" y2="389.4" stroke="#555555" stroke-width="1" />
<text transform="translate(579.5 399.5) scale(1 1.07)" font-size="7.8" fill="#1a1a1a" stroke="#1a1a1a" stroke-width="0.12" text-anchor="middle" >15</text>
<line x1="606" y1="386.4" x2="606" y2="389.4" stroke="#555555" stroke-width="1" />
<text transform="translate(606 399.5) scale(1 1.07)" font-size="7.8" fill="#1a1a1a" stroke="#1a1a1a" stroke-width="0.12" text-anchor="middle" >20</text>
<line x1="632.5" y1="386.4" x2="632.5" y2="389.4" stroke="#555555" stroke-width="1" />
<text transform="translate(632.5 399.5) scale(1 1.07)" font-size="7.8" fill="#1a1a1a" stroke="#1a1a1a" stroke-width="0.12" text-anchor="middle" >25</text>
<line x1="513.25" y1="386.4" x2="513.25" y2="388.1" stroke="#555555" stroke-width="1" />
<line x1="539.75" y1="386.4" x2="539.75" y2="388.1" stroke="#555555" stroke-width="1" />
<line x1="566.25" y1="386.4" x2="566.25" y2="388.1" stroke="#555555" stroke-width="1" />
<line x1="592.75" y1="386.4" x2="592.75" y2="388.1" stroke="#555555" stroke-width="1" />
<line x1="619.25" y1="386.4" x2="619.25" y2="388.1" stroke="#555555" stroke-width="1" />
<text transform="translate(581.3 409.63) scale(1 1.07)" font-size="9.3" fill="#1a1a1a" stroke="#1a1a1a" stroke-width="0.12" text-anchor="middle" >Time (min)</text>
<text transform="translate(471.74 304.1) rotate(-90) scale(1 1.07)" font-size="9.7" fill="#1a1a1a" stroke="#1a1a1a" stroke-width="0.12" text-anchor="middle">Concentration (μM)</text>
<polyline points="500,245.23 505.3,287.2 515.9,310.28 526.5,350.06 542.4,358.33 553,363.17 579.5,368.47 632.5,374.4" fill="none" stroke="#7a7a7a" stroke-width="0.9" stroke-linejoin="round" />
<rect x="496.77" y="242.01" width="6.45" height="6.45" fill="white" stroke="#a2a2a2" stroke-width="0.75"/>
<circle cx="500" cy="245.23" r="0.4" fill="#a2a2a2" opacity="0.5"/>
<rect x="502.07" y="283.97" width="6.45" height="6.45" fill="white" stroke="#a2a2a2" stroke-width="0.75"/>
<circle cx="505.3" cy="287.2" r="0.4" fill="#a2a2a2" opacity="0.5"/>
<rect x="512.67" y="307.06" width="6.45" height="6.45" fill="white" stroke="#a2a2a2" stroke-width="0.75"/>
<circle cx="515.9" cy="310.28" r="0.4" fill="#a2a2a2" opacity="0.5"/>
<rect x="523.27" y="346.84" width="6.45" height="6.45" fill="white" stroke="#a2a2a2" stroke-width="0.75"/>
<circle cx="526.5" cy="350.06" r="0.4" fill="#a2a2a2" opacity="0.5"/>
<rect x="539.17" y="355.11" width="6.45" height="6.45" fill="white" stroke="#a2a2a2" stroke-width="0.75"/>
<circle cx="542.4" cy="358.33" r="0.4" fill="#a2a2a2" opacity="0.5"/>
<rect x="549.77" y="359.94" width="6.45" height="6.45" fill="white" stroke="#a2a2a2" stroke-width="0.75"/>
<circle cx="553" cy="363.17" r="0.4" fill="#a2a2a2" opacity="0.5"/>
<rect x="576.27" y="365.25" width="6.45" height="6.45" fill="white" stroke="#a2a2a2" stroke-width="0.75"/>
<circle cx="579.5" cy="368.47" r="0.4" fill="#a2a2a2" opacity="0.5"/>
<rect x="629.27" y="371.17" width="6.45" height="6.45" fill="white" stroke="#a2a2a2" stroke-width="0.75"/>
<circle cx="632.5" cy="374.4" r="0.4" fill="#a2a2a2" opacity="0.5"/>
<line x1="497" y1="242.42" x2="503" y2="242.42" stroke="#8a8a8a" stroke-width="1.0" />
<line x1="497" y1="248.04" x2="503" y2="248.04" stroke="#8a8a8a" stroke-width="1.0" />
<line x1="505.3" y1="275.03" x2="505.3" y2="283.6" stroke="#8a8a8a" stroke-width="1.0" />
<line x1="505.3" y1="290.8" x2="505.3" y2="299.36" stroke="#8a8a8a" stroke-width="1.0" />
<line x1="502.3" y1="275.03" x2="508.3" y2="275.03" stroke="#8a8a8a" stroke-width="1.0" />
<line x1="502.3" y1="299.36" x2="508.3" y2="299.36" stroke="#8a8a8a" stroke-width="1.0" />
<line x1="515.9" y1="306.38" x2="515.9" y2="306.68" stroke="#8a8a8a" stroke-width="1.0" />
<line x1="515.9" y1="313.88" x2="515.9" y2="314.18" stroke="#8a8a8a" stroke-width="1.0" />
<line x1="512.9" y1="306.38" x2="518.9" y2="306.38" stroke="#8a8a8a" stroke-width="1.0" />
<line x1="512.9" y1="314.18" x2="518.9" y2="314.18" stroke="#8a8a8a" stroke-width="1.0" />
<line x1="526.5" y1="328.54" x2="526.5" y2="346.46" stroke="#8a8a8a" stroke-width="1.0" />
<line x1="526.5" y1="353.66" x2="526.5" y2="371.59" stroke="#8a8a8a" stroke-width="1.0" />
<line x1="523.5" y1="328.54" x2="529.5" y2="328.54" stroke="#8a8a8a" stroke-width="1.0" />
<line x1="523.5" y1="371.59" x2="529.5" y2="371.59" stroke="#8a8a8a" stroke-width="1.0" />
<line x1="542.4" y1="354.43" x2="542.4" y2="354.73" stroke="#8a8a8a" stroke-width="1.0" />
<line x1="542.4" y1="361.93" x2="542.4" y2="362.23" stroke="#8a8a8a" stroke-width="1.0" />
<line x1="539.4" y1="354.43" x2="545.4" y2="354.43" stroke="#8a8a8a" stroke-width="1.0" />
<line x1="539.4" y1="362.23" x2="545.4" y2="362.23" stroke="#8a8a8a" stroke-width="1.0" />
<line x1="550" y1="361.14" x2="556" y2="361.14" stroke="#8a8a8a" stroke-width="1.0" />
<line x1="550" y1="365.2" x2="556" y2="365.2" stroke="#8a8a8a" stroke-width="1.0" />
<line x1="576.5" y1="366.29" x2="582.5" y2="366.29" stroke="#8a8a8a" stroke-width="1.0" />
<line x1="576.5" y1="370.66" x2="582.5" y2="370.66" stroke="#8a8a8a" stroke-width="1.0" />
<polyline points="500,374.4 505.3,368.16 515.9,349.6 526.5,340.24 542.4,306.7 553,292.03 579.5,266.29 632.5,237.43" fill="none" stroke="#2f7dc0" stroke-width="1.2" stroke-linejoin="round" />
<circle cx="500" cy="374.4" r="3.88" fill="white" stroke="#2f7dc0" stroke-width="0.85"/>
<circle cx="500" cy="374.4" r="0.4" fill="#2f7dc0" opacity="0.5"/>
<circle cx="505.3" cy="368.16" r="3.88" fill="white" stroke="#2f7dc0" stroke-width="0.85"/>
<circle cx="505.3" cy="368.16" r="0.4" fill="#2f7dc0" opacity="0.5"/>
<circle cx="515.9" cy="349.6" r="3.88" fill="white" stroke="#2f7dc0" stroke-width="0.85"/>
<circle cx="515.9" cy="349.6" r="0.4" fill="#2f7dc0" opacity="0.5"/>
<circle cx="526.5" cy="340.24" r="3.88" fill="white" stroke="#2f7dc0" stroke-width="0.85"/>
<circle cx="526.5" cy="340.24" r="0.4" fill="#2f7dc0" opacity="0.5"/>
<circle cx="542.4" cy="306.7" r="3.88" fill="white" stroke="#2f7dc0" stroke-width="0.85"/>
<circle cx="542.4" cy="306.7" r="0.4" fill="#2f7dc0" opacity="0.5"/>
<circle cx="553" cy="292.03" r="3.88" fill="white" stroke="#2f7dc0" stroke-width="0.85"/>
<circle cx="553" cy="292.03" r="0.4" fill="#2f7dc0" opacity="0.5"/>
<circle cx="579.5" cy="266.29" r="3.88" fill="white" stroke="#2f7dc0" stroke-width="0.85"/>
<circle cx="579.5" cy="266.29" r="0.4" fill="#2f7dc0" opacity="0.5"/>
<circle cx="632.5" cy="237.43" r="3.88" fill="white" stroke="#2f7dc0" stroke-width="0.85"/>
<circle cx="632.5" cy="237.43" r="0.4" fill="#2f7dc0" opacity="0.5"/>
<polyline points="500,374.4 505.3,360.67 515.9,339.14 526.5,315.74 542.4,286.1 553,253.97 579.5,250.38 632.5,235.87" fill="none" stroke="#f57a7a" stroke-width="0.9" stroke-linejoin="round" />
<polygon points="500,368.93 504.8,377.13 495.2,377.13" fill="white" stroke="#f57a7a" stroke-width="0.8"/>
<circle cx="500" cy="374.4" r="0.4" fill="#f57a7a" opacity="0.5"/>
<polygon points="505.3,355.21 510.1,363.41 500.5,363.41" fill="white" stroke="#f57a7a" stroke-width="0.8"/>
<circle cx="505.3" cy="360.67" r="0.4" fill="#f57a7a" opacity="0.5"/>
<polygon points="515.9,333.68 520.7,341.88 511.1,341.88" fill="white" stroke="#f57a7a" stroke-width="0.8"/>
<circle cx="515.9" cy="339.14" r="0.4" fill="#f57a7a" opacity="0.5"/>
<polygon points="526.5,310.28 531.3,318.48 521.7,318.48" fill="white" stroke="#f57a7a" stroke-width="0.8"/>
<circle cx="526.5" cy="315.74" r="0.4" fill="#f57a7a" opacity="0.5"/>
<polygon points="542.4,280.64 547.2,288.84 537.6,288.84" fill="white" stroke="#f57a7a" stroke-width="0.8"/>
<circle cx="542.4" cy="286.1" r="0.4" fill="#f57a7a" opacity="0.5"/>
<polygon points="553,248.5 557.8,256.7 548.2,256.7" fill="white" stroke="#f57a7a" stroke-width="0.8"/>
<circle cx="553" cy="253.97" r="0.4" fill="#f57a7a" opacity="0.5"/>
<polygon points="579.5,244.91 584.3,253.11 574.7,253.11" fill="white" stroke="#f57a7a" stroke-width="0.8"/>
<circle cx="579.5" cy="250.38" r="0.4" fill="#f57a7a" opacity="0.5"/>
<polygon points="632.5,230.41 637.3,238.61 627.7,238.61" fill="white" stroke="#f57a7a" stroke-width="0.8"/>
<circle cx="632.5" cy="235.87" r="0.4" fill="#f57a7a" opacity="0.5"/>
<rect x="565.67" y="324.77" width="6.45" height="6.45" fill="white" stroke="#a2a2a2" stroke-width="0.75"/>
<circle cx="568.9" cy="328" r="0.4" fill="#a2a2a2" opacity="0.5"/>
<text transform="translate(578.9 330.9) scale(1 1.07)" font-size="8.0" fill="#1a1a1a" stroke="#1a1a1a" stroke-width="0.12" text-anchor="start" >TCP</text>
<circle cx="568.9" cy="339.4" r="3.88" fill="white" stroke="#2f7dc0" stroke-width="0.85"/>
<circle cx="568.9" cy="339.4" r="0.4" fill="#2f7dc0" opacity="0.5"/>
<text transform="translate(578.9 342.3) scale(1 1.07)" font-size="8.0" fill="#1a1a1a" stroke="#1a1a1a" stroke-width="0.12" text-anchor="start" >Phenol</text>
<polygon points="568.9,345.33 573.7,353.53 564.1,353.53" fill="white" stroke="#f57a7a" stroke-width="0.85"/>
<circle cx="568.9" cy="350.8" r="0.4" fill="#f57a7a" opacity="0.5"/>
<text transform="translate(578.9 353.7) scale(1 1.07)" font-size="8.0" fill="#1a1a1a" stroke="#1a1a1a" stroke-width="0.12" text-anchor="start" >Cl<tspan font-size="5.5" dy="-3.6">−</tspan></text>
<rect x="494.2" y="216.8" width="190.1" height="169.6" fill="none" stroke="#7c7c7c" stroke-width="1.3"/>
<line x1="666.2" y1="342.4" x2="666.2" y2="262.2" stroke="#2f7dc0" stroke-width="1.1" stroke-dasharray="2.6,1.6"/>
<path d="M666.2,254 L668.9,262.7 L666.2,261.4 L663.5,262.7 Z" fill="#2f7dc0"/>
<path d="M666.2,316.7 Q664.7,289.94 650.65,268.04" fill="none" stroke="#f57a7a" stroke-width="1" stroke-dasharray="2.4,1.7"/>
<path d="M646.3,262.3 L653.58,267.45 L650.51,267.86 L649.28,270.71 Z" fill="#f57a7a"/>
<text transform="translate(640.8 259.23) scale(1 1.07)" font-size="9" fill="#f57a7a" stroke="#f57a7a" stroke-width="0.12" text-anchor="start" >Cl<tspan font-size="5.5" dy="-3.6">−</tspan></text>
<polygon points="672.58,246.4 666,250.2 659.42,246.4 659.42,238.8 666,235 672.58,238.8" fill="none" stroke="#4a86bf" stroke-width="0.8" stroke-linejoin="round"/>
<line x1="661.71" y1="239.45" x2="665.42" y2="237.31" stroke="#4a86bf" stroke-width="0.8" />
<line x1="670.87" y1="240.46" x2="670.87" y2="244.74" stroke="#4a86bf" stroke-width="0.8" />
<line x1="665.42" y1="247.89" x2="661.71" y2="245.75" stroke="#4a86bf" stroke-width="0.8" />
<line x1="666" y1="235" x2="666" y2="231.4" stroke="#4a86bf" stroke-width="0.8" />
<text transform="translate(666.7 230.73) scale(1 1.07)" font-size="6.3" fill="#4a86bf" stroke="#4a86bf" stroke-width="0.12" text-anchor="middle" >OH</text>
<polygon points="671.8,370.15 665.3,373.9 658.8,370.15 658.8,362.65 665.3,358.9 671.8,362.65" fill="none" stroke="#4a86bf" stroke-width="0.8" stroke-linejoin="round"/>
<line x1="661.07" y1="363.29" x2="664.72" y2="361.18" stroke="#4a86bf" stroke-width="0.8" />
<line x1="670.11" y1="364.29" x2="670.11" y2="368.51" stroke="#4a86bf" stroke-width="0.8" />
<line x1="664.72" y1="371.62" x2="661.07" y2="369.51" stroke="#4a86bf" stroke-width="0.8" />
<line x1="665.3" y1="358.9" x2="665.3" y2="355.3" stroke="#4a86bf" stroke-width="0.8" />
<text transform="translate(667.4 354.33) scale(1 1.07)" font-size="6.3" fill="#4a86bf" stroke="#4a86bf" stroke-width="0.12" text-anchor="middle" >OH</text>
<line x1="658.8" y1="362.65" x2="656.3" y2="361.35" stroke="#4a86bf" stroke-width="0.8" />
<line x1="656.3" y1="361.35" x2="653.8" y2="360.05" stroke="#e9553f" stroke-width="0.8" />
<text transform="translate(650.2 361.83) scale(1 1.07)" font-size="6.3" fill="#e9553f" stroke="#e9553f" stroke-width="0.12" text-anchor="middle" >Cl</text>
<line x1="671.8" y1="362.65" x2="674.3" y2="361.35" stroke="#4a86bf" stroke-width="0.8" />
<line x1="674.3" y1="361.35" x2="676.8" y2="360.05" stroke="#e9553f" stroke-width="0.8" />
<text transform="translate(679.2 361.83) scale(1 1.07)" font-size="6.3" fill="#e9553f" stroke="#e9553f" stroke-width="0.12" text-anchor="middle" >Cl</text>
<line x1="665.3" y1="373.9" x2="665.3" y2="375.9" stroke="#4a86bf" stroke-width="0.8" />
<line x1="665.3" y1="375.9" x2="665.3" y2="377.9" stroke="#e9553f" stroke-width="0.8" />
<text transform="translate(666.1 384.33) scale(1 1.07)" font-size="6.3" fill="#e9553f" stroke="#e9553f" stroke-width="0.12" text-anchor="middle" >Cl</text>
</svg></body></html>
